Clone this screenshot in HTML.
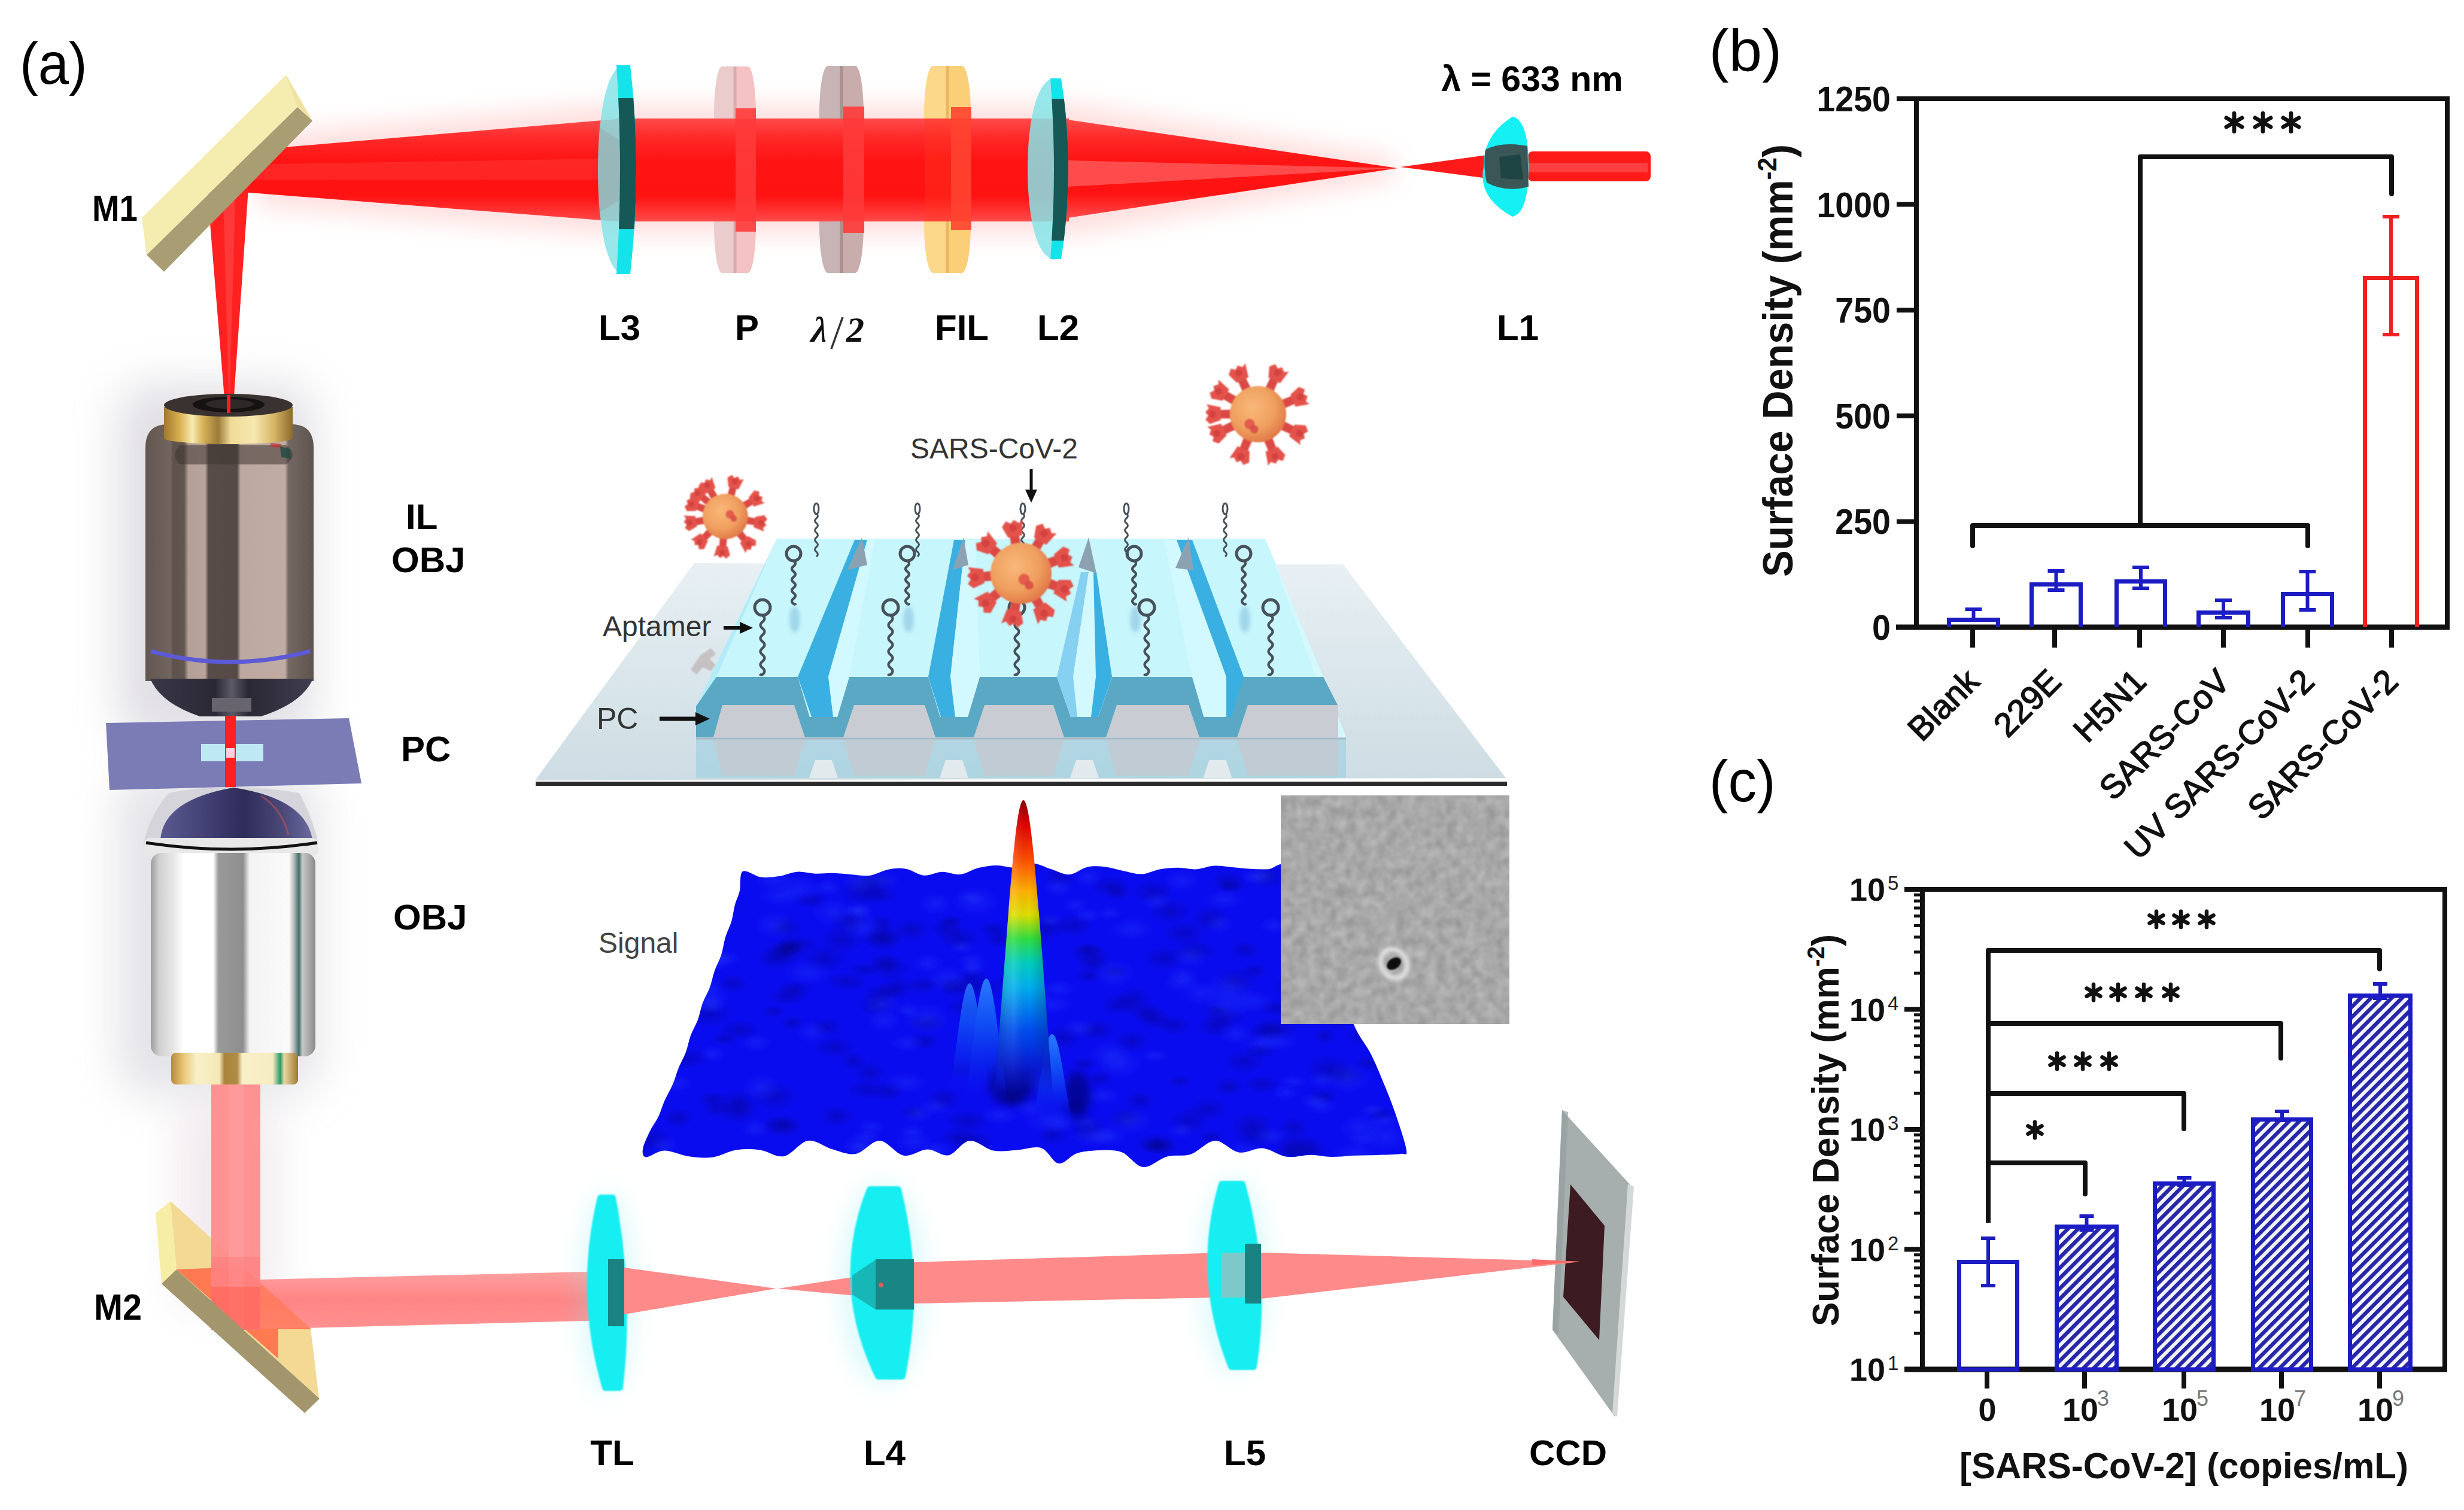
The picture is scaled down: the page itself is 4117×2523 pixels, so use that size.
<!DOCTYPE html>
<html><head><meta charset="utf-8"><style>html,body{margin:0;padding:0;background:#fff;overflow:hidden}svg{display:block}</style></head>
<body><svg width="4117" height="2523" viewBox="0 0 4117 2523">

<defs>
 <filter id="blur8" x="-50%" y="-50%" width="200%" height="200%"><feGaussianBlur stdDeviation="8"/></filter>
 <filter id="blur20" x="-50%" y="-50%" width="200%" height="200%"><feGaussianBlur stdDeviation="20"/></filter>
 <filter id="blur35" x="-50%" y="-50%" width="200%" height="200%"><feGaussianBlur stdDeviation="35"/></filter>
 <filter id="blur3" x="-50%" y="-50%" width="200%" height="200%"><feGaussianBlur stdDeviation="3"/></filter>
 <filter id="blur1" x="-50%" y="-50%" width="200%" height="200%"><feGaussianBlur stdDeviation="1.3"/></filter>
 <linearGradient id="beamV" x1="0" y1="0" x2="0" y2="1">
  <stop offset="0" stop-color="#ff4a4a"/><stop offset="0.18" stop-color="#ff2a2a"/>
  <stop offset="0.4" stop-color="#ff1414"/><stop offset="0.75" stop-color="#ff1212"/>
  <stop offset="0.9" stop-color="#ff3232"/><stop offset="1" stop-color="#ff4a4a"/>
 </linearGradient>
 <linearGradient id="pinkV" x1="0" y1="0" x2="0" y2="1">
  <stop offset="0" stop-color="#ff9a9a"/><stop offset="0.5" stop-color="#ff7e7e"/><stop offset="1" stop-color="#ff8c8c"/>
 </linearGradient>
 <linearGradient id="pinkH" x1="0" y1="0" x2="1" y2="0">
  <stop offset="0" stop-color="#ff8a8a"/><stop offset="0.5" stop-color="#ff9696"/><stop offset="1" stop-color="#ff8080"/>
 </linearGradient>
 <linearGradient id="objTop" x1="0" y1="0" x2="1" y2="0">
  <stop offset="0" stop-color="#62564f"/><stop offset="0.15" stop-color="#726560"/>
  <stop offset="0.165" stop-color="#5e524e"/><stop offset="0.23" stop-color="#62564f"/>
  <stop offset="0.255" stop-color="#b4a096"/><stop offset="0.355" stop-color="#b8a49a"/>
  <stop offset="0.375" stop-color="#574c47"/><stop offset="0.545" stop-color="#554a46"/>
  <stop offset="0.565" stop-color="#bca89e"/><stop offset="0.83" stop-color="#c0aca2"/>
  <stop offset="0.85" stop-color="#746862"/><stop offset="1" stop-color="#5e534e"/>
 </linearGradient>
 <linearGradient id="gold" x1="0" y1="0" x2="1" y2="0">
  <stop offset="0" stop-color="#a07830"/><stop offset="0.12" stop-color="#d8b050"/>
  <stop offset="0.22" stop-color="#f8eab0"/><stop offset="0.3" stop-color="#d9b45a"/>
  <stop offset="0.42" stop-color="#9c7a38"/><stop offset="0.52" stop-color="#f0dc98"/>
  <stop offset="0.7" stop-color="#f6e8b0"/><stop offset="0.85" stop-color="#d8b868"/>
  <stop offset="1" stop-color="#8c6a2c"/>
 </linearGradient>
 <linearGradient id="goldL" x1="0" y1="0" x2="1" y2="0">
  <stop offset="0" stop-color="#b88a3a"/><stop offset="0.1" stop-color="#e8c878"/>
  <stop offset="0.2" stop-color="#f8f0c8"/><stop offset="0.38" stop-color="#f4e8b8"/>
  <stop offset="0.42" stop-color="#a8843c"/><stop offset="0.52" stop-color="#b08c44"/>
  <stop offset="0.56" stop-color="#f8f0c8"/><stop offset="0.8" stop-color="#f6ecc0"/>
  <stop offset="0.86" stop-color="#2a9a6a"/><stop offset="0.89" stop-color="#e8d8a0"/>
  <stop offset="1" stop-color="#a07834"/>
 </linearGradient>
 <linearGradient id="silver" x1="0" y1="0" x2="1" y2="0">
  <stop offset="0" stop-color="#9c9c9c"/><stop offset="0.05" stop-color="#d0d0d0"/>
  <stop offset="0.14" stop-color="#e8e8e8"/><stop offset="0.2" stop-color="#ffffff"/>
  <stop offset="0.38" stop-color="#ffffff"/><stop offset="0.41" stop-color="#9a9a9a"/>
  <stop offset="0.56" stop-color="#8e8e8e"/><stop offset="0.6" stop-color="#f4f4f4"/>
  <stop offset="0.84" stop-color="#fafafa"/><stop offset="0.87" stop-color="#b8b8b8"/>
  <stop offset="0.9" stop-color="#3c6e68"/><stop offset="0.92" stop-color="#c8c8c8"/>
  <stop offset="1" stop-color="#8a8a8a"/>
 </linearGradient>
 <linearGradient id="domeG" x1="0" y1="0" x2="1" y2="0">
  <stop offset="0" stop-color="#5a5a90"/><stop offset="0.35" stop-color="#3e3c70"/>
  <stop offset="0.55" stop-color="#2e2c58"/><stop offset="0.8" stop-color="#4a4878"/>
  <stop offset="1" stop-color="#6a6aa0"/>
 </linearGradient>
 <linearGradient id="coneG" x1="0" y1="0" x2="1" y2="0">
  <stop offset="0" stop-color="#3a3848"/><stop offset="0.4" stop-color="#2a2834"/>
  <stop offset="0.5" stop-color="#5c5a66"/><stop offset="0.6" stop-color="#2a2834"/>
  <stop offset="1" stop-color="#403e50"/>
 </linearGradient>
 <linearGradient id="glassG" x1="0" y1="0" x2="0" y2="1">
  <stop offset="0" stop-color="#e8f0f4"/><stop offset="1" stop-color="#cddde3"/>
 </linearGradient>
 <radialGradient id="virusG" cx="0.4" cy="0.38" r="0.65">
  <stop offset="0" stop-color="#f8b878"/><stop offset="0.6" stop-color="#f0a060"/><stop offset="1" stop-color="#e07848"/>
 </radialGradient>
 <linearGradient id="peakG" x1="0" y1="0" x2="0" y2="1">
  <stop offset="0" stop-color="#8a0000"/><stop offset="0.08" stop-color="#e00000"/>
  <stop offset="0.2" stop-color="#ff5000"/><stop offset="0.3" stop-color="#ffb000"/>
  <stop offset="0.38" stop-color="#e0e000"/><stop offset="0.46" stop-color="#30e040"/>
  <stop offset="0.54" stop-color="#00d0c0"/><stop offset="0.62" stop-color="#00b0f0"/>
  <stop offset="0.76" stop-color="#0050f0"/><stop offset="0.88" stop-color="#0820d8" stop-opacity="0.9"/>
  <stop offset="1" stop-color="#0a0ce8" stop-opacity="0"/>
 </linearGradient>
 <linearGradient id="peakShade" x1="0" y1="0" x2="1" y2="0">
  <stop offset="0" stop-color="#000" stop-opacity="0.25"/><stop offset="0.35" stop-color="#fff" stop-opacity="0.12"/>
  <stop offset="0.6" stop-color="#000" stop-opacity="0"/><stop offset="1" stop-color="#000" stop-opacity="0.3"/>
 </linearGradient>
 <filter id="noiseF" x="0" y="0" width="1" height="1" filterUnits="objectBoundingBox" color-interpolation-filters="sRGB">
  <feTurbulence type="fractalNoise" baseFrequency="0.06" numOctaves="2" seed="4" result="t"/>
  <feColorMatrix in="t" type="matrix" values="0.2 0 0 0 0.56  0.2 0 0 0 0.56  0.2 0 0 0 0.56  0 0 0 0 1" result="c"/>
  <feGaussianBlur in="c" stdDeviation="1.5"/>
 </filter>
 <linearGradient id="fadeV" gradientUnits="userSpaceOnUse" x1="0" y1="1330" x2="0" y2="1830">
  <stop offset="0" stop-color="#fff"/><stop offset="0.7" stop-color="#fff"/><stop offset="1" stop-color="#000"/>
 </linearGradient>
 <mask id="pkMask" maskUnits="userSpaceOnUse" x="1500" y="1300" width="400" height="600"><rect x="1500" y="1300" width="400" height="600" fill="url(#fadeV)"/></mask>
 <radialGradient id="bump" cx="0.5" cy="0.5" r="0.5">
  <stop offset="0" stop-color="#000060" stop-opacity="0.55"/><stop offset="1" stop-color="#000060" stop-opacity="0"/>
 </radialGradient>
 <radialGradient id="bumpL" cx="0.5" cy="0.5" r="0.5">
  <stop offset="0" stop-color="#3050ff" stop-opacity="0.55"/><stop offset="1" stop-color="#3050ff" stop-opacity="0"/>
 </radialGradient>
 <linearGradient id="sideBump" x1="0" y1="0" x2="0" y2="1">
  <stop offset="0" stop-color="#2a78ff"/><stop offset="0.35" stop-color="#1050f4"/><stop offset="0.7" stop-color="#0a20ec" stop-opacity="0.9"/><stop offset="1" stop-color="#0a0cf0" stop-opacity="0"/>
 </linearGradient>
 <pattern id="hatch" patternUnits="userSpaceOnUse" width="12.2" height="12.2" patternTransform="rotate(-45)">
  <rect width="12.2" height="12.2" fill="#f4f4ff"/>
  <rect x="0" y="0" width="12.2" height="6.4" fill="#2626a8"/>
 </pattern>
 <linearGradient id="ccdG" x1="0" y1="0" x2="1" y2="0">
  <stop offset="0" stop-color="#8c8c8c"/><stop offset="0.5" stop-color="#b0b0b0"/><stop offset="1" stop-color="#c8c8c8"/>
 </linearGradient>
</defs>

<rect width="4117" height="2523" fill="#ffffff"/>
<g filter="url(#blur35)" opacity="0.55"><rect x="195" y="640" width="330" height="600" rx="60" fill="#c9c6cf"/><rect x="195" y="1290" width="340" height="540" rx="60" fill="#cfcfd6"/><rect x="300" y="1850" width="160" height="330" fill="#e6d8e0"/></g>
<g filter="url(#blur20)" opacity="0.22"><polygon points="430,225 1000,175 1800,175 2330,262 2330,300 1800,392 1000,392 430,345" fill="#ff7070"/></g>
<clipPath id="rc1228"><rect x="1193" y="111" width="70" height="345" rx="13.3" ry="80"/></clipPath><g clip-path="url(#rc1228)"><rect x="1193" y="111" width="35" height="345" fill="#ebcccc"/><rect x="1228" y="111" width="35" height="345" fill="#f4c2c2"/><rect x="1225.5" y="111" width="5" height="345" fill="#d9acac"/></g>
<clipPath id="rc1406"><rect x="1369" y="110" width="74" height="346" rx="14.06" ry="80"/></clipPath><g clip-path="url(#rc1406)"><rect x="1369" y="110" width="37" height="346" fill="#c8b4b4"/><rect x="1406" y="110" width="37" height="346" fill="#c9adad"/><rect x="1403.5" y="110" width="5" height="346" fill="#a89090"/></g>
<clipPath id="rc1583"><rect x="1544" y="110" width="78" height="346" rx="14.82" ry="80"/></clipPath><g clip-path="url(#rc1583)"><rect x="1544" y="110" width="39" height="346" fill="#fcd88a"/><rect x="1583" y="110" width="39" height="346" fill="#fbcf78"/><rect x="1580.5" y="110" width="5" height="346" fill="#e8b860"/></g>
<polygon points="380,254 1030,199 1030,370 380,319" fill="url(#beamV)"/>
<polygon points="400,275 1000,265 1000,300 400,300" fill="#ff5a5a" opacity="0.25"/>
<rect x="1030" y="198" width="756" height="172" fill="url(#beamV)"/>
<polygon points="1784,200 2335,281 1784,364" fill="url(#beamV)"/>
<polygon points="1784,268 2335,281 1784,312" fill="#ff5a5a" opacity="0.8"/>
<polygon points="2340,279 2485,259 2485,298" fill="#ff1a1a"/>
<rect x="2553" y="253" width="205" height="50" rx="8" fill="#ff1a1a"/>
<rect x="2553" y="272" width="200" height="16" fill="#ff4848" opacity="0.8"/>
<polygon points="345,300 416,300 389,690 377,690" fill="#ff2020"/>
<polygon points="372,300 394,300 383,690" fill="#ff5050" opacity="0.5"/>
<rect x="1229" y="181" width="34" height="206" fill="#ff3a3a" opacity="0.9"/>
<rect x="1409" y="178" width="35" height="211" fill="#ff3a3a" opacity="0.9"/>
<rect x="1589" y="179" width="34" height="205" fill="#ff4430" opacity="0.9"/>
<rect x="1545" y="198" width="44" height="172" fill="#ff3a20" opacity="0.35"/>
<polygon points="237,364 478,125 522,202 497,179 245,426" fill="#f5ecb0"/>
<polygon points="478,125 522,202 497,179" fill="#f0e2a0"/>
<polygon points="245,426 497,179 522,202 274,454" fill="#a99d74"/>
<path d="M1042,109 C1012,112 999,200 999,284 C999,368 1012,456 1042,458 Z" fill="#86e4e8" opacity="0.85"/>
<polygon points="1000,212 1038,236 1038,332 1000,356" fill="#999" opacity="0.3"/>
<clipPath id="cL3"><rect x="990" y="164" width="100" height="219"/></clipPath>
<path d="M1030,109 L1053,109 Q1073,284 1053,458 L1030,458 Q1042,284 1030,109 Z" fill="#14e4ea"/>
<path d="M1030,109 L1053,109 Q1073,284 1053,458 L1030,458 Q1042,284 1030,109 Z" fill="#165856" clip-path="url(#cL3)"/>
<path d="M1762,130 C1730,134 1717,210 1717,282 C1717,356 1730,430 1762,434 Z" fill="#86e4e8" opacity="0.85"/>
<clipPath id="cL2"><rect x="1700" y="165" width="120" height="237"/></clipPath>
<path d="M1755,131 L1773,131 Q1797,282 1773,433 L1755,433 Q1767,282 1755,131 Z" fill="#14e4ea"/>
<path d="M1755,131 L1773,131 Q1797,282 1773,433 L1755,433 Q1767,282 1755,131 Z" fill="#165856" clip-path="url(#cL2)"/>
<path d="M2527,195 Q2554,200 2554,278 Q2554,356 2527,362 Q2468,330 2479,278 Q2478,226 2527,195 Z" fill="#14f0f4"/>
<path d="M2482,250 Q2510,236 2552,244 L2554,312 Q2515,322 2484,305 Q2478,278 2482,250 Z" fill="#3a5656"/>
<path d="M2505,262 L2540,258 L2545,300 L2508,298 Z" fill="#1f4444"/>
<text x="33" y="140" font-family="Liberation Sans, sans-serif" font-size="99" font-weight="normal" text-anchor="start" fill="#000" textLength="112.7" lengthAdjust="spacingAndGlyphs">(a)</text>
<text x="154" y="369" font-family="Liberation Sans, sans-serif" font-size="62" font-weight="bold" text-anchor="start" fill="#000" textLength="76" lengthAdjust="spacingAndGlyphs">M1</text>
<text x="1035" y="568" font-family="Liberation Sans, sans-serif" font-size="60" font-weight="bold" text-anchor="middle" fill="#000" >L3</text>
<text x="1248" y="568" font-family="Liberation Sans, sans-serif" font-size="60" font-weight="bold" text-anchor="middle" fill="#000" >P</text>
<text x="1607" y="568" font-family="Liberation Sans, sans-serif" font-size="60" font-weight="bold" text-anchor="middle" fill="#000" >FIL</text>
<text x="1768" y="568" font-family="Liberation Sans, sans-serif" font-size="60" font-weight="bold" text-anchor="middle" fill="#000" >L2</text>
<text x="2536" y="568" font-family="Liberation Sans, sans-serif" font-size="60" font-weight="bold" text-anchor="middle" fill="#000" >L1</text>
<text transform="translate(1352,571) skewX(-14)" x="0" y="0" font-family="Liberation Serif, serif" font-weight="bold" font-size="60" fill="#111" textLength="27" lengthAdjust="spacingAndGlyphs">&#955;</text>
<line x1="1389" y1="583" x2="1408" y2="530" stroke="#333" stroke-width="3.5"/>
<text x="1414" y="571" font-family="Liberation Serif, serif" font-style="italic" font-weight="bold" font-size="60" fill="#111" textLength="30" lengthAdjust="spacingAndGlyphs">2</text>
<text x="2560" y="152" font-family="Liberation Sans, sans-serif" font-size="59" font-weight="bold" text-anchor="middle" fill="#000" >&#955; = 633 nm</text>
<path d="M243,1138 L243,748 Q243,709 280,709 L487,709 Q524,709 524,748 L524,1138 Z" fill="url(#objTop)"/>
<path d="M300,744 L478,744 Q500,760 478,776 L300,776 Q285,760 300,744 Z" fill="#3e3532" opacity="0.55"/>
<path d="M468,746 L484,750 L486,766 L470,764 Z" fill="#1f4a44" opacity="0.8"/>
<path d="M452,740 L470,742 L468,748 L452,747 Z" fill="#c03030" opacity="0.7"/>
<path d="M252,1088 Q384,1124 518,1088" stroke="#5c5ad6" stroke-width="7" fill="none"/>
<path d="M251,1134 L523,1134 Q505,1175 436,1197 L334,1197 Q268,1175 251,1134 Z" fill="url(#coneG)"/>
<rect x="354" y="1166" width="66" height="23" fill="#68646e"/>
<rect x="274" y="680" width="215" height="52" fill="url(#gold)"/>
<ellipse cx="381.5" cy="732" rx="107.5" ry="10" fill="url(#gold)"/>
<ellipse cx="381.5" cy="677" rx="107.5" ry="19" fill="#3a3230"/>
<ellipse cx="382" cy="676" rx="60" ry="13" fill="#161212"/>
<ellipse cx="384" cy="675" rx="40" ry="8" fill="#2e2826"/>
<line x1="382" y1="660" x2="382" y2="690" stroke="#ff2020" stroke-width="6"/>
<polygon points="177,1208 583,1200 604,1309 183,1320" fill="#7b7cb6"/>
<rect x="336" y="1243" width="104" height="29" fill="#bfe9f2"/>
<rect x="376" y="1196" width="18" height="125" fill="#ff2020"/>
<rect x="378" y="1250" width="14" height="16" fill="#ffd0e0"/>
<path d="M282,1325 Q384,1305 500,1325 Q522,1365 532,1410 L240,1410 Q248,1365 282,1325 Z" fill="#d4d4da"/>
<path d="M268,1402 Q274,1336 390,1316 Q510,1334 522,1402 Z" fill="url(#domeG)"/>
<path d="M436,1330 Q470,1350 482,1395" stroke="#c05050" stroke-width="3" fill="none" opacity="0.6"/>
<rect x="241" y="1400" width="291" height="30" rx="10" fill="#e8e8e8"/>
<path d="M244,1408 Q386,1430 530,1408" stroke="#111" stroke-width="5" fill="none"/>
<rect x="252" y="1425" width="275" height="340" rx="18" fill="url(#silver)"/>
<rect x="286" y="1759" width="212" height="53" rx="8" fill="url(#goldL)"/>
<polygon points="260,2027 285,2007 295,2121 270,2145" fill="#f6eea6"/>
<polygon points="285,2007 519,2220 533,2336 295,2121" fill="#f3d994"/>
<clipPath id="m2face"><polygon points="285,2007 519,2220 533,2336 295,2121"/></clipPath>
<polygon clip-path="url(#m2face)" points="295,2121 424,2116 434,2138 525,2138 525,2221 465,2221 465,2270 295,2121" fill="#ff7a50"/>
<rect x="353" y="1812" width="82" height="410" fill="#ff8a8a" opacity="0.92"/>
<rect x="382" y="1812" width="26" height="410" fill="#ffaaaa" opacity="0.35"/>
<rect x="353" y="2100" width="82" height="122" fill="#ff7070" opacity="0.35"/>
<polygon points="434,2138 1020,2124 1020,2206 434,2221" fill="url(#pinkV)" opacity="0.95"/>
<polygon points="353,2150 434,2150 434,2221 400,2222 353,2190" fill="#ff5a4a" opacity="0.5"/>
<polygon clip-path="url(#m2face)" points="434,2138 525,2138 525,2221 434,2221" fill="#ff7a50" opacity="0.6"/>
<polygon points="270,2145 295,2121 534,2337 509,2361" fill="#a3966c"/>
<text x="157" y="2205" font-family="Liberation Sans, sans-serif" font-size="61" font-weight="bold" text-anchor="start" fill="#000" textLength="80" lengthAdjust="spacingAndGlyphs">M2</text>
<g filter="url(#blur20)" opacity="0.25"><ellipse cx="1014" cy="2160" rx="45" ry="170" fill="#7ae8f0"/><ellipse cx="1475" cy="2145" rx="70" ry="170" fill="#7ae8f0"/><ellipse cx="2062" cy="2131" rx="55" ry="165" fill="#7ae8f0"/></g>
<path d="M1004,2002 L1023,2002 Q1053.0,2160.0 1035,2318 L1012,2318 Q966.0,2160.0 1004,2002 Z" fill="#12eef2" stroke="#12eef2" stroke-width="12" stroke-linejoin="round" filter="url(#blur1)"/>
<rect x="1016" y="2104" width="27" height="112" fill="#1a8280"/>
<polygon points="1043,2118 1297,2153 1043,2196" fill="#ff8a8a"/>
<polygon points="1300,2153 1463,2128 1463,2168" fill="#ff8a8a"/>
<path d="M1454,1988 L1500,1988 Q1538.5,2143.5 1507,2299 L1468,2299 Q1393.0,2143.5 1454,1988 Z" fill="#12eef2" stroke="#12eef2" stroke-width="12" stroke-linejoin="round" filter="url(#blur1)"/>
<polygon points="1424,2131 1463,2105 1527,2104 1527,2188 1463,2188 1424,2163" fill="#1a8a88" opacity="0.55"/>
<rect x="1463" y="2104" width="64" height="84" fill="#1a8684"/>
<circle cx="1472" cy="2147" r="4" fill="#d86060"/>
<polygon points="1527,2109 2040,2093 2040,2168 1527,2178" fill="#ff8a8a"/>
<path d="M2042,1979 L2075,1979 Q2117.5,2131.0 2094,2283 L2058,2283 Q1998.0,2131.0 2042,1979 Z" fill="#12eef2" stroke="#12eef2" stroke-width="12" stroke-linejoin="round" filter="url(#blur1)"/>
<rect x="2080" y="2078" width="27" height="100" fill="#1a8280"/>
<rect x="2040" y="2093" width="40" height="75" fill="#ff9a9a" opacity="0.45"/>
<polygon points="2610,1855 2727,1983 2698,2367 2594,2222" fill="#a6aeae"/>
<polygon points="2720,1978 2730,1983 2702,2367 2694,2362" fill="#d4d8d8"/>
<polygon points="2610,1855 2620,1858 2604,2230 2594,2222" fill="#969ea0" opacity="0.7"/>
<polygon points="2624,1979 2681,2048 2672,2239 2612,2167" fill="#3c1c20"/>
<polygon points="2107,2093 2640,2108 2107,2170" fill="#ff8a8a"/>
<polygon points="2560,2104 2640,2108 2560,2114" fill="#ff6a6a"/>
<text x="1023" y="2448" font-family="Liberation Sans, sans-serif" font-size="60" font-weight="bold" text-anchor="middle" fill="#000" >TL</text>
<text x="1478" y="2448" font-family="Liberation Sans, sans-serif" font-size="60" font-weight="bold" text-anchor="middle" fill="#000" >L4</text>
<text x="2080" y="2448" font-family="Liberation Sans, sans-serif" font-size="60" font-weight="bold" text-anchor="middle" fill="#000" >L5</text>
<text x="2620" y="2448" font-family="Liberation Sans, sans-serif" font-size="60" font-weight="bold" text-anchor="middle" fill="#000" >CCD</text>
<text x="678" y="884" font-family="Liberation Sans, sans-serif" font-size="60" font-weight="bold" text-anchor="start" fill="#000" >IL</text>
<text x="654" y="956" font-family="Liberation Sans, sans-serif" font-size="60" font-weight="bold" text-anchor="start" fill="#000" >OBJ</text>
<text x="670" y="1272" font-family="Liberation Sans, sans-serif" font-size="60" font-weight="bold" text-anchor="start" fill="#000" >PC</text>
<text x="657" y="1553" font-family="Liberation Sans, sans-serif" font-size="60" font-weight="bold" text-anchor="start" fill="#000" >OBJ</text>
<polygon points="1160,941 2244,943 2516,1300 894,1304" fill="url(#glassG)"/>
<rect x="895" y="1306" width="1623" height="7" fill="#2a2a2a"/>
<polygon points="1163,1234 2249,1234 2249,1300 1163,1300" fill="#a6d2e2" opacity="0.75"/>
<polygon points="1298,900 2114,900 2211,1131 1197,1131" fill="#c8f6fd"/>
<polygon points="1298,900 1197,1131 1163,1232 1163,1180" fill="#b2ecf8"/>
<polygon points="2114,900 2211,1131 2249,1232 2236,1232" fill="#d4f8fe"/>
<polygon points="1333,1131 1384,1131 1449,902 1428,902" fill="#3ab0e2"/>
<polygon points="1384,1131 1419,1131 1462,902 1449,902" fill="#d2f9ff"/>
<polygon points="1416,952 1449,944 1440,898" fill="#8ca2b2"/>
<polygon points="1551,1131 1588,1131 1613,902 1594,902" fill="#3ab0e2"/>
<polygon points="1588,1131 1637,1131 1630,902 1613,902" fill="#d2f9ff"/>
<polygon points="1592,952 1618,944 1610,898" fill="#8ca2b2"/>
<polygon points="1766,1131 1793,1131 1819,956 1806,956" fill="#86d0f2"/>
<polygon points="1793,1131 1831,1131 1827,956 1819,956" fill="#d2f9ff"/>
<polygon points="1831,1131 1858,1131 1832,956 1827,956" fill="#3ab0e2"/>
<polygon points="1802,948 1832,958 1819,898" fill="#8ca2b2"/>
<polygon points="1992,1131 2049,1131 1966,902 1945,902" fill="#d2f9ff"/>
<polygon points="2049,1131 2078,1131 1992,902 1966,902" fill="#3ab0e2"/>
<polygon points="1964,949 1994,953 1986,898" fill="#8ca2b2"/>
<polygon points="1163,1232 1163,1180 1197,1131 1333,1131 1353.0,1198 1399.0,1198 1419,1131 1551,1131 1571.0,1198 1617.0,1198 1637,1131 1766,1131 1789.0,1198 1835.0,1198 1858,1131 1992,1131 2011.5,1198 2057.5,1198 2077,1131 2211,1131 2236,1180 2236,1232" fill="#5aa8c4"/>
<polygon points="1333,1131 1419,1131 1399.0,1198 1353.0,1198" fill="#d2f9ff"/>
<polygon points="1551,1131 1637,1131 1617.0,1198 1571.0,1198" fill="#d2f9ff"/>
<polygon points="1766,1131 1858,1131 1835.0,1198 1789.0,1198" fill="#d2f9ff"/>
<polygon points="1992,1131 2077,1131 2057.5,1198 2011.5,1198" fill="#d2f9ff"/>
<polygon points="1333,1131 1384,1131 1392,1198 1356,1198" fill="#3ab0e2"/>
<polygon points="1551,1131 1588,1131 1596,1198 1572,1198" fill="#3ab0e2"/>
<polygon points="1766,1131 1793,1131 1800,1198 1789,1198" fill="#86d0f2"/>
<polygon points="1831,1131 1858,1131 1835,1198 1823,1198" fill="#3ab0e2"/>
<polygon points="2049,1131 2078,1131 2058,1198 2049,1198" fill="#3ab0e2"/>
<polygon points="1207,1178 1327,1178 1345,1232 1192,1232" fill="#c9ccd2"/>
<polygon points="1427,1178 1545,1178 1563,1232 1409,1232" fill="#c9ccd2"/>
<polygon points="1645,1178 1760,1178 1778,1232 1627,1232" fill="#c9ccd2"/>
<polygon points="1866,1178 1986,1178 2004,1232 1848,1232" fill="#c9ccd2"/>
<polygon points="2085,1178 2236,1178 2236,1232 2067,1232" fill="#c9ccd2"/>
<polygon points="1192,1236 1345,1236 1327,1296 1207,1296" fill="#c3cad1" opacity="0.9"/>
<polygon points="1409,1236 1563,1236 1545,1296 1427,1296" fill="#c3cad1" opacity="0.9"/>
<polygon points="1627,1236 1778,1236 1760,1296 1645,1296" fill="#c3cad1" opacity="0.9"/>
<polygon points="1848,1236 2004,1236 1986,1296 1866,1296" fill="#c3cad1" opacity="0.9"/>
<polygon points="2067,1236 2236,1236 2236,1296 2085,1296" fill="#c3cad1" opacity="0.9"/>
<polygon points="1362.0,1270 1390.0,1270 1400.0,1300 1352.0,1300" fill="#e2eaee"/>
<polygon points="1580.0,1270 1608.0,1270 1618.0,1300 1570.0,1300" fill="#e2eaee"/>
<polygon points="1798.0,1270 1826.0,1270 1836.0,1300 1788.0,1300" fill="#e2eaee"/>
<polygon points="2020.5,1270 2048.5,1270 2058.5,1300 2010.5,1300" fill="#e2eaee"/>
<line x1="1163" y1="1234" x2="2249" y2="1234" stroke="#a8b8c4" stroke-width="3"/>
<path d="M1170,1095 l18,-12 l8,10 l-10,8 l10,10 l-8,10 l-14,-6 l-10,12 l-10,-8 z" fill="#b8a8a8" opacity="0.6" filter="url(#blur1)"/>
<ellipse cx="1364" cy="850" rx="4" ry="9" fill="none" stroke="#46515a" stroke-width="3" opacity="1"/><path d="M1364,858 Q1369,862.0 1364,866.0 Q1359,870.0 1364,874.0 Q1369,878.0 1364,882.0 Q1359,886.0 1364,890.0 Q1369,894.0 1364,898.0 Q1359,902.0 1364,906.0 Q1369,910.0 1364,914.0 Q1359,918.0 1364,922.0 Q1369,926.0 1364,930.0" fill="none" stroke="#46515a" stroke-width="3" opacity="1"/>
<ellipse cx="1533" cy="850" rx="4" ry="9" fill="none" stroke="#46515a" stroke-width="3" opacity="1"/><path d="M1533,858 Q1538,862.0 1533,866.0 Q1528,870.0 1533,874.0 Q1538,878.0 1533,882.0 Q1528,886.0 1533,890.0 Q1538,894.0 1533,898.0 Q1528,902.0 1533,906.0 Q1538,910.0 1533,914.0 Q1528,918.0 1533,922.0 Q1538,926.0 1533,930.0" fill="none" stroke="#46515a" stroke-width="3" opacity="1"/>
<ellipse cx="1709" cy="850" rx="4" ry="9" fill="none" stroke="#46515a" stroke-width="3" opacity="1"/><path d="M1709,858 Q1714,862.0 1709,866.0 Q1704,870.0 1709,874.0 Q1714,878.0 1709,882.0 Q1704,886.0 1709,890.0 Q1714,894.0 1709,898.0 Q1704,902.0 1709,906.0 Q1714,910.0 1709,914.0 Q1704,918.0 1709,922.0 Q1714,926.0 1709,930.0" fill="none" stroke="#46515a" stroke-width="3" opacity="1"/>
<ellipse cx="1882" cy="850" rx="4" ry="9" fill="none" stroke="#46515a" stroke-width="3" opacity="1"/><path d="M1882,858 Q1887,862.0 1882,866.0 Q1877,870.0 1882,874.0 Q1887,878.0 1882,882.0 Q1877,886.0 1882,890.0 Q1887,894.0 1882,898.0 Q1877,902.0 1882,906.0 Q1887,910.0 1882,914.0 Q1877,918.0 1882,922.0 Q1887,926.0 1882,930.0" fill="none" stroke="#46515a" stroke-width="3" opacity="1"/>
<ellipse cx="2047" cy="850" rx="4" ry="9" fill="none" stroke="#46515a" stroke-width="3" opacity="1"/><path d="M2047,858 Q2052,862.0 2047,866.0 Q2042,870.0 2047,874.0 Q2052,878.0 2047,882.0 Q2042,886.0 2047,890.0 Q2052,894.0 2047,898.0 Q2042,902.0 2047,906.0 Q2052,910.0 2047,914.0 Q2042,918.0 2047,922.0 Q2052,926.0 2047,930.0" fill="none" stroke="#46515a" stroke-width="3" opacity="1"/>
<circle cx="1326" cy="925" r="12" fill="none" stroke="#46515a" stroke-width="5.0" opacity="1"/><path d="M1326,937 Q1332,941.5 1326,946.0 Q1320,950.5 1326,955.0 Q1332,959.5 1326,964.0 Q1320,968.5 1326,973.0 Q1332,977.5 1326,982.0 Q1320,986.5 1326,991.0 Q1332,995.5 1326,1000.0 Q1320,1004.5 1326,1009.0 Q1332,1009.5 1326,1010" fill="none" stroke="#46515a" stroke-width="4.2" opacity="1"/>
<ellipse cx="1328" cy="1035" rx="9" ry="22" fill="#7ab8d8" opacity="0.5" filter="url(#blur3)"/>
<circle cx="1516" cy="925" r="12" fill="none" stroke="#46515a" stroke-width="5.0" opacity="1"/><path d="M1516,937 Q1522,941.5 1516,946.0 Q1510,950.5 1516,955.0 Q1522,959.5 1516,964.0 Q1510,968.5 1516,973.0 Q1522,977.5 1516,982.0 Q1510,986.5 1516,991.0 Q1522,995.5 1516,1000.0 Q1510,1004.5 1516,1009.0 Q1522,1009.5 1516,1010" fill="none" stroke="#46515a" stroke-width="4.2" opacity="1"/>
<ellipse cx="1518" cy="1035" rx="9" ry="22" fill="#7ab8d8" opacity="0.5" filter="url(#blur3)"/>
<circle cx="1895" cy="925" r="12" fill="none" stroke="#46515a" stroke-width="5.0" opacity="1"/><path d="M1895,937 Q1901,941.5 1895,946.0 Q1889,950.5 1895,955.0 Q1901,959.5 1895,964.0 Q1889,968.5 1895,973.0 Q1901,977.5 1895,982.0 Q1889,986.5 1895,991.0 Q1901,995.5 1895,1000.0 Q1889,1004.5 1895,1009.0 Q1901,1009.5 1895,1010" fill="none" stroke="#46515a" stroke-width="4.2" opacity="1"/>
<ellipse cx="1897" cy="1035" rx="9" ry="22" fill="#7ab8d8" opacity="0.5" filter="url(#blur3)"/>
<circle cx="2078" cy="925" r="12" fill="none" stroke="#46515a" stroke-width="5.0" opacity="1"/><path d="M2078,937 Q2084,941.5 2078,946.0 Q2072,950.5 2078,955.0 Q2084,959.5 2078,964.0 Q2072,968.5 2078,973.0 Q2084,977.5 2078,982.0 Q2072,986.5 2078,991.0 Q2084,995.5 2078,1000.0 Q2072,1004.5 2078,1009.0 Q2084,1009.5 2078,1010" fill="none" stroke="#46515a" stroke-width="4.2" opacity="1"/>
<ellipse cx="2080" cy="1035" rx="9" ry="22" fill="#7ab8d8" opacity="0.5" filter="url(#blur3)"/>
<circle cx="1274" cy="1015" r="13" fill="none" stroke="#46515a" stroke-width="5.0" opacity="1"/><path d="M1274,1028 Q1281,1033.5 1274,1039.0 Q1267,1044.5 1274,1050.0 Q1281,1055.5 1274,1061.0 Q1267,1066.5 1274,1072.0 Q1281,1077.5 1274,1083.0 Q1267,1088.5 1274,1094.0 Q1281,1099.5 1274,1105.0 Q1267,1110.5 1274,1116.0 Q1281,1121.5 1274,1127.0 Q1267,1127.5 1274,1128" fill="none" stroke="#46515a" stroke-width="4.2" opacity="1"/>
<circle cx="1488" cy="1015" r="13" fill="none" stroke="#46515a" stroke-width="5.0" opacity="1"/><path d="M1488,1028 Q1495,1033.5 1488,1039.0 Q1481,1044.5 1488,1050.0 Q1495,1055.5 1488,1061.0 Q1481,1066.5 1488,1072.0 Q1495,1077.5 1488,1083.0 Q1481,1088.5 1488,1094.0 Q1495,1099.5 1488,1105.0 Q1481,1110.5 1488,1116.0 Q1495,1121.5 1488,1127.0 Q1481,1127.5 1488,1128" fill="none" stroke="#46515a" stroke-width="4.2" opacity="1"/>
<circle cx="1699" cy="1015" r="13" fill="none" stroke="#46515a" stroke-width="5.0" opacity="1"/><path d="M1699,1028 Q1706,1033.5 1699,1039.0 Q1692,1044.5 1699,1050.0 Q1706,1055.5 1699,1061.0 Q1692,1066.5 1699,1072.0 Q1706,1077.5 1699,1083.0 Q1692,1088.5 1699,1094.0 Q1706,1099.5 1699,1105.0 Q1692,1110.5 1699,1116.0 Q1706,1121.5 1699,1127.0 Q1692,1127.5 1699,1128" fill="none" stroke="#46515a" stroke-width="4.2" opacity="1"/>
<circle cx="1916" cy="1015" r="13" fill="none" stroke="#46515a" stroke-width="5.0" opacity="1"/><path d="M1916,1028 Q1923,1033.5 1916,1039.0 Q1909,1044.5 1916,1050.0 Q1923,1055.5 1916,1061.0 Q1909,1066.5 1916,1072.0 Q1923,1077.5 1916,1083.0 Q1909,1088.5 1916,1094.0 Q1923,1099.5 1916,1105.0 Q1909,1110.5 1916,1116.0 Q1923,1121.5 1916,1127.0 Q1909,1127.5 1916,1128" fill="none" stroke="#46515a" stroke-width="4.2" opacity="1"/>
<circle cx="2123" cy="1015" r="13" fill="none" stroke="#46515a" stroke-width="5.0" opacity="1"/><path d="M2123,1028 Q2130,1033.5 2123,1039.0 Q2116,1044.5 2123,1050.0 Q2130,1055.5 2123,1061.0 Q2116,1066.5 2123,1072.0 Q2130,1077.5 2123,1083.0 Q2116,1088.5 2123,1094.0 Q2130,1099.5 2123,1105.0 Q2116,1110.5 2123,1116.0 Q2130,1121.5 2123,1127.0 Q2116,1127.5 2123,1128" fill="none" stroke="#46515a" stroke-width="4.2" opacity="1"/>
<g filter="url(#blur1)"><polygon points="1204.2,836.8 1190.6,814.6 1180.8,820.3 1193.2,843.1" fill="#dc4a44"/><polygon points="1180.3,824.2 1168.5,814.6 1170.6,806.1 1177.2,806.8 1179.3,801.0 1186.4,802.5 1189.4,797.0 1195.5,815.5" fill="#e4524c"/><circle cx="1181.8" cy="810.6" r="4.8" fill="#c83a38" opacity="0.6"/><polygon points="1225.0,838.9 1231.1,813.7 1220.1,810.7 1212.8,835.7" fill="#dc4a44"/><polygon points="1217.0,813.2 1215.5,798.0 1223.0,793.5 1227.1,798.7 1232.7,796.1 1236.7,802.1 1242.7,800.4 1233.9,817.7" fill="#e4524c"/><circle cx="1227.7" cy="804.6" r="4.8" fill="#c83a38" opacity="0.6"/><polygon points="1238.2,855.2 1260.4,841.6 1254.7,831.8 1231.9,844.2" fill="#dc4a44"/><polygon points="1250.8,831.3 1260.4,819.5 1268.9,821.6 1268.2,828.2 1274.0,830.3 1272.5,837.4 1278.0,840.4 1259.5,846.5" fill="#e4524c"/><circle cx="1264.4" cy="832.8" r="4.8" fill="#c83a38" opacity="0.6"/><polygon points="1237.1,873.9 1262.8,877.7 1264.8,866.5 1239.3,861.4" fill="#dc4a44"/><polygon points="1262.1,863.6 1277.0,860.8 1282.2,867.9 1277.4,872.5 1280.5,877.8 1274.9,882.3 1277.0,888.1 1259.0,880.9" fill="#e4524c"/><circle cx="1271.6" cy="873.5" r="4.8" fill="#c83a38" opacity="0.6"/><polygon points="1224.2,887.4 1241.4,906.9 1250.2,899.6 1233.9,879.3" fill="#dc4a44"/><polygon points="1250.0,895.7 1263.2,903.1 1262.7,911.9 1256.0,912.3 1254.9,918.4 1247.8,918.2 1245.7,924.1 1236.5,906.9" fill="#e4524c"/><circle cx="1250.9" cy="909.3" r="4.8" fill="#c83a38" opacity="0.6"/><polygon points="1203.4,888.9 1201.7,914.9 1213.1,915.9 1216.0,890.1" fill="#dc4a44"/><polygon points="1215.7,912.9 1219.9,927.6 1213.3,933.4 1208.3,929.0 1203.2,932.5 1198.3,927.3 1192.6,930.0 1198.3,911.4" fill="#e4524c"/><circle cx="1206.7" cy="923.3" r="4.8" fill="#c83a38" opacity="0.6"/><polygon points="1188.7,877.3 1170.8,896.2 1178.8,904.2 1197.7,886.3" fill="#dc4a44"/><polygon points="1182.8,903.7 1176.5,917.5 1167.7,917.7 1166.7,911.1 1160.6,910.6 1160.2,903.4 1154.1,901.9 1170.4,891.3" fill="#e4524c"/><circle cx="1169.2" cy="905.8" r="4.8" fill="#c83a38" opacity="0.6"/><polygon points="1184.7,861.4 1159.2,866.5 1161.2,877.7 1186.9,873.9" fill="#dc4a44"/><polygon points="1164.7,879.5 1151.6,887.3 1144.3,882.4 1147.3,876.5 1142.6,872.5 1146.3,866.4 1142.3,861.6 1161.7,862.3" fill="#e4524c"/><circle cx="1152.4" cy="873.5" r="4.8" fill="#c83a38" opacity="0.6"/><polygon points="1189.2,848.0 1164.5,839.7 1160.6,850.4 1184.8,859.9" fill="#dc4a44"/><polygon points="1162.8,853.7 1147.6,853.9 1143.7,846.0 1149.3,842.3 1147.1,836.5 1153.4,833.1 1152.3,827.0 1168.8,837.2" fill="#e4524c"/><circle cx="1155.1" cy="842.3" r="4.8" fill="#c83a38" opacity="0.6"/><polygon points="1195.7,841.1 1175.4,824.8 1168.1,833.6 1187.6,850.8" fill="#dc4a44"/><polygon points="1169.0,837.4 1154.6,832.4 1153.6,823.7 1160.1,822.1 1160.1,815.9 1167.2,814.9 1168.2,808.7 1180.2,824.0" fill="#e4524c"/><circle cx="1165.7" cy="824.1" r="4.8" fill="#c83a38" opacity="0.6"/><circle cx="1212" cy="863" r="38" fill="url(#virusG)"/><circle cx="1219.6" cy="859.2" r="7.1" fill="#e0504a" opacity="0.85"/><circle cx="1225.9" cy="866.3" r="5.5" fill="#d84844" opacity="0.85"/></g>
<g filter="url(#blur1)"><polygon points="2095.2,658.9 2080.3,628.8 2067.5,634.7 2081.0,665.5" fill="#dc4a44"/><polygon points="2066.5,639.5 2053.0,626.4 2056.5,616.1 2064.6,617.7 2067.8,610.8 2076.3,613.3 2080.7,607.0 2086.1,630.4" fill="#e4524c"/><circle cx="2069.8" cy="622.9" r="5.9" fill="#c83a38" opacity="0.6"/><polygon points="2123.0,665.5 2136.5,634.7 2123.7,628.8 2108.8,658.9" fill="#dc4a44"/><polygon points="2119.4,631.1 2120.8,612.3 2130.9,608.4 2134.9,615.6 2142.2,613.7 2145.8,621.8 2153.4,621.1 2139.0,640.2" fill="#e4524c"/><circle cx="2134.2" cy="622.9" r="5.9" fill="#c83a38" opacity="0.6"/><polygon points="2135.4,686.9 2166.3,673.6 2161.0,660.6 2129.6,672.4" fill="#dc4a44"/><polygon points="2156.2,659.3 2170.1,646.5 2180.2,650.5 2178.1,658.6 2184.8,662.1 2181.9,670.5 2188.0,675.2 2164.4,679.4" fill="#e4524c"/><circle cx="2172.7" cy="663.4" r="5.9" fill="#c83a38" opacity="0.6"/><polygon points="2128.5,713.0 2159.3,726.5 2165.2,713.7 2135.1,698.8" fill="#dc4a44"/><polygon points="2162.9,709.4 2181.7,710.8 2185.6,720.9 2178.4,724.9 2180.3,732.2 2172.2,735.8 2172.9,743.4 2153.8,729.0" fill="#e4524c"/><circle cx="2171.1" cy="724.2" r="5.9" fill="#c83a38" opacity="0.6"/><polygon points="2107.1,725.4 2120.4,756.3 2133.4,751.0 2121.6,719.6" fill="#dc4a44"/><polygon points="2134.7,746.2 2147.5,760.1 2143.5,770.2 2135.4,768.1 2131.9,774.8 2123.5,771.9 2118.8,778.0 2114.6,754.4" fill="#e4524c"/><circle cx="2130.6" cy="762.7" r="5.9" fill="#c83a38" opacity="0.6"/><polygon points="2082.4,719.6 2070.6,751.0 2083.6,756.3 2096.9,725.4" fill="#dc4a44"/><polygon points="2087.8,753.7 2087.4,772.6 2077.5,777.0 2073.2,770.0 2065.9,772.3 2062.0,764.4 2054.3,765.5 2067.8,745.6" fill="#e4524c"/><circle cx="2073.4" cy="762.7" r="5.9" fill="#c83a38" opacity="0.6"/><polygon points="2068.9,698.8 2038.8,713.7 2044.7,726.5 2075.5,713.0" fill="#dc4a44"/><polygon points="2049.5,727.5 2036.4,741.0 2026.1,737.5 2027.7,729.4 2020.8,726.2 2023.3,717.7 2017.0,713.3 2040.4,707.9" fill="#e4524c"/><circle cx="2032.9" cy="724.2" r="5.9" fill="#c83a38" opacity="0.6"/><polygon points="2069.1,684.2 2035.5,685.0 2035.5,699.0 2069.1,699.8" fill="#dc4a44"/><polygon points="2039.5,702.0 2021.8,708.6 2014.0,701.2 2018.9,694.5 2014.0,688.7 2019.9,682.0 2016.0,675.4 2039.5,680.3" fill="#e4524c"/><circle cx="2025.8" cy="692.0" r="5.9" fill="#c83a38" opacity="0.6"/><polygon points="2077.4,668.8 2048.0,652.7 2040.9,664.9 2069.6,682.3" fill="#dc4a44"/><polygon points="2042.8,669.4 2024.3,666.3 2021.2,655.9 2028.8,652.6 2027.5,645.1 2035.9,642.3 2035.8,634.6 2053.7,650.6" fill="#e4524c"/><circle cx="2036.0" cy="653.9" r="5.9" fill="#c83a38" opacity="0.6"/><circle cx="2102" cy="692" r="47" fill="url(#virusG)"/><circle cx="2087.9" cy="708.5" r="8.8" fill="#e0504a" opacity="0.85"/><circle cx="2095.7" cy="717.3" r="6.9" fill="#d84844" opacity="0.85"/></g>
<g filter="url(#blur1)"><polygon points="1708.2,921.4 1702.0,891.1 1686.9,893.7 1691.4,924.3" fill="#dc4a44"/><polygon points="1684.5,898.5 1674.1,880.9 1680.6,871.1 1688.6,875.1 1693.9,868.7 1702.2,873.8 1708.5,868.3 1707.6,894.4" fill="#e4524c"/><circle cx="1692.6" cy="881.9" r="6.4" fill="#c83a38" opacity="0.6"/><polygon points="1731.2,931.3 1745.9,904.1 1732.7,896.5 1716.5,922.8" fill="#dc4a44"/><polygon points="1727.8,898.6 1731.1,878.4 1742.4,875.1 1746.0,883.3 1754.1,881.9 1757.2,891.0 1765.6,890.9 1748.1,910.3" fill="#e4524c"/><circle cx="1744.6" cy="891.1" r="6.4" fill="#c83a38" opacity="0.6"/><polygon points="1742.5,953.8 1771.2,942.4 1766.0,928.0 1736.6,937.8" fill="#dc4a44"/><polygon points="1760.9,926.5 1776.4,913.2 1787.2,917.9 1784.7,926.5 1791.8,930.6 1788.3,939.6 1794.8,944.9 1768.9,948.5" fill="#e4524c"/><circle cx="1778.6" cy="931.6" r="6.4" fill="#c83a38" opacity="0.6"/><polygon points="1736.6,978.2 1766.0,988.0 1771.2,973.6 1742.5,962.2" fill="#dc4a44"/><polygon points="1768.3,969.1 1788.8,968.9 1794.0,979.4 1786.5,984.4 1789.3,992.2 1780.9,996.8 1782.4,1005.0 1760.3,991.2" fill="#e4524c"/><circle cx="1778.6" cy="984.4" r="6.4" fill="#c83a38" opacity="0.6"/><polygon points="1716.5,993.2 1732.7,1019.5 1745.9,1011.9 1731.2,984.7" fill="#dc4a44"/><polygon points="1746.6,1006.6 1762.4,1019.5 1759.6,1031.0 1750.7,1030.0 1747.9,1037.7 1738.4,1035.8 1734.3,1043.1 1726.2,1018.3" fill="#e4524c"/><circle cx="1744.6" cy="1024.9" r="6.4" fill="#c83a38" opacity="0.6"/><polygon points="1691.4,991.7 1686.9,1022.3 1702.0,1024.9 1708.2,994.6" fill="#dc4a44"/><polygon points="1705.8,1021.3 1709.6,1041.4 1700.2,1048.4 1694.0,1041.9 1686.8,1046.0 1680.8,1038.5 1673.0,1041.4 1682.7,1017.2" fill="#e4524c"/><circle cx="1692.6" cy="1034.1" r="6.4" fill="#c83a38" opacity="0.6"/><polygon points="1673.2,974.4 1650.0,995.0 1659.9,1006.7 1684.1,987.5" fill="#dc4a44"/><polygon points="1665.2,1006.4 1655.2,1024.2 1643.4,1023.5 1642.9,1014.5 1634.7,1013.1 1635.0,1003.5 1627.1,1000.6 1650.1,988.4" fill="#e4524c"/><circle cx="1646.8" cy="1007.7" r="6.4" fill="#c83a38" opacity="0.6"/><polygon points="1669.7,952.6 1639.0,956.2 1640.3,971.4 1671.2,969.6" fill="#dc4a44"/><polygon points="1644.8,974.2 1626.4,983.1 1617.2,975.7 1621.9,968.1 1616.0,962.2 1621.7,954.5 1616.9,947.7 1642.8,950.8" fill="#e4524c"/><circle cx="1629.0" cy="964.7" r="6.4" fill="#c83a38" opacity="0.6"/><polygon points="1684.1,928.5 1659.9,909.3 1650.0,921.0 1673.2,941.6" fill="#dc4a44"/><polygon points="1651.3,926.2 1632.0,919.4 1630.7,907.8 1639.4,905.6 1639.4,897.4 1648.9,895.9 1650.3,887.7 1666.3,908.2" fill="#e4524c"/><circle cx="1646.8" cy="908.3" r="6.4" fill="#c83a38" opacity="0.6"/><circle cx="1706" cy="958" r="51" fill="url(#virusG)"/><circle cx="1711.1" cy="968.2" r="9.6" fill="#e0504a" opacity="0.85"/><circle cx="1719.6" cy="977.8" r="7.4" fill="#d84844" opacity="0.85"/></g>
<text x="1661" y="766" font-family="Liberation Sans, sans-serif" font-size="48" font-weight="normal" text-anchor="middle" fill="#333" >SARS-CoV-2</text>
<line x1="1723" y1="784" x2="1723" y2="822" stroke="#111" stroke-width="5"/>
<polygon points="1713,818 1733,818 1723,840" fill="#111"/>
<text x="1007" y="1063" font-family="Liberation Sans, sans-serif" font-size="48" font-weight="normal" text-anchor="start" fill="#333" >Aptamer</text>
<line x1="1209" y1="1049" x2="1240" y2="1049" stroke="#111" stroke-width="6"/>
<polygon points="1236,1039 1236,1059 1258,1049" fill="#111"/>
<text x="997" y="1218" font-family="Liberation Sans, sans-serif" font-size="50" font-weight="normal" text-anchor="start" fill="#333" >PC</text>
<line x1="1102" y1="1201" x2="1166" y2="1201" stroke="#111" stroke-width="7"/>
<polygon points="1162,1190 1162,1212 1186,1201" fill="#111"/>
<path d="M1241.0,1455.9 C1246.9,1452.1 1261.2,1464.2 1271.3,1465.6 C1281.4,1466.9 1291.5,1465.6 1301.6,1464.1 C1311.7,1462.6 1321.8,1457.4 1331.9,1456.7 C1342.0,1455.9 1352.1,1459.4 1362.2,1459.7 C1372.3,1460.1 1382.4,1458.5 1392.5,1458.8 C1402.6,1459.1 1412.7,1460.6 1422.8,1461.3 C1432.9,1462.0 1443.0,1464.3 1453.1,1462.9 C1463.2,1461.5 1473.3,1454.8 1483.4,1452.9 C1493.5,1451.0 1503.6,1450.1 1513.7,1451.7 C1523.8,1453.3 1533.9,1461.9 1544.0,1462.7 C1554.1,1463.5 1564.2,1457.0 1574.3,1456.8 C1584.4,1456.5 1594.5,1462.2 1604.6,1461.1 C1614.7,1460.0 1624.8,1452.6 1634.9,1450.1 C1645.0,1447.6 1655.1,1446.1 1665.2,1446.0 C1675.3,1445.9 1685.4,1450.2 1695.5,1449.6 C1705.6,1449.0 1715.7,1442.0 1725.8,1442.4 C1735.9,1442.8 1746.0,1449.0 1756.1,1452.1 C1766.2,1455.3 1776.3,1461.8 1786.4,1461.2 C1796.5,1460.7 1806.6,1450.9 1816.7,1448.7 C1826.8,1446.6 1836.9,1447.3 1847.0,1448.4 C1857.1,1449.4 1867.2,1453.2 1877.3,1455.3 C1887.4,1457.3 1897.5,1461.0 1907.6,1460.5 C1917.7,1460.1 1927.8,1454.2 1937.9,1452.4 C1948.0,1450.7 1958.1,1449.8 1968.2,1449.8 C1978.3,1449.8 1988.4,1452.9 1998.5,1452.4 C2008.6,1451.9 2018.7,1447.2 2028.8,1446.6 C2038.9,1446.0 2049.0,1448.1 2059.1,1449.0 C2069.2,1449.9 2079.3,1451.2 2089.4,1451.7 C2099.5,1452.3 2109.6,1452.8 2119.7,1452.2 C2129.8,1451.7 2138.3,1437.0 2150.0,1448.3 C2161.7,1459.6 2176.7,1491.4 2190.0,1520.0 C2203.3,1548.6 2218.0,1588.0 2230.0,1620.0 C2242.0,1652.0 2252.0,1688.7 2262.0,1712.0 C2272.0,1735.3 2281.7,1743.7 2290.0,1760.0 C2298.3,1776.3 2305.0,1793.0 2312.0,1810.0 C2319.0,1827.0 2325.7,1843.3 2332.0,1862.0 C2338.3,1880.7 2348.7,1911.0 2350.0,1922.0 C2351.3,1933.0 2348.3,1926.7 2340.0,1928.0 C2331.7,1929.3 2313.0,1929.4 2300.0,1929.9 C2287.0,1930.3 2274.5,1930.2 2262.0,1930.7 C2249.5,1931.3 2237.0,1933.2 2225.0,1933.1 C2213.0,1932.9 2202.5,1929.9 2190.0,1929.8 C2177.5,1929.8 2163.3,1934.7 2150.0,1932.8 C2136.7,1930.9 2123.3,1919.7 2110.0,1918.5 C2096.7,1917.2 2083.3,1927.5 2070.0,1925.4 C2056.7,1923.4 2043.3,1905.5 2030.0,1906.0 C2016.7,1906.5 2003.3,1924.0 1990.0,1928.4 C1976.7,1932.8 1963.3,1928.8 1950.0,1932.4 C1936.7,1936.0 1922.5,1951.2 1910.0,1950.0 C1897.5,1948.8 1886.7,1930.2 1875.0,1925.5 C1863.3,1920.8 1852.5,1921.7 1840.0,1921.9 C1827.5,1922.1 1811.8,1923.0 1800.0,1926.7 C1788.2,1930.4 1779.0,1945.4 1769.0,1944.0 C1759.0,1942.6 1751.5,1922.0 1740.0,1918.2 C1728.5,1914.5 1713.3,1920.8 1700.0,1921.5 C1686.7,1922.2 1673.3,1925.0 1660.0,1922.5 C1646.7,1919.9 1632.5,1904.7 1620.0,1906.0 C1607.5,1907.3 1596.7,1927.8 1585.0,1930.3 C1573.3,1932.7 1562.5,1920.5 1550.0,1920.6 C1537.5,1920.6 1523.3,1933.2 1510.0,1930.8 C1496.7,1928.3 1483.3,1906.5 1470.0,1906.0 C1456.7,1905.5 1443.3,1925.5 1430.0,1927.9 C1416.7,1930.2 1403.3,1923.7 1390.0,1920.0 C1376.7,1916.4 1363.3,1904.0 1350.0,1906.0 C1336.7,1908.0 1323.3,1929.4 1310.0,1931.9 C1296.7,1934.5 1283.3,1923.1 1270.0,1921.4 C1256.7,1919.6 1243.3,1919.4 1230.0,1921.4 C1216.7,1923.5 1203.3,1932.0 1190.0,1933.7 C1176.7,1935.5 1163.3,1933.8 1150.0,1932.0 C1136.7,1930.1 1121.7,1922.4 1110.0,1922.6 C1098.3,1922.9 1086.0,1933.8 1080.0,1933.4 C1074.0,1932.9 1073.0,1927.2 1074.0,1920.0 C1075.0,1912.8 1081.7,1899.0 1086.0,1890.0 C1090.3,1881.0 1096.0,1874.3 1100.0,1866.0 C1104.0,1857.7 1106.0,1849.0 1110.0,1840.0 C1114.0,1831.0 1120.0,1821.3 1124.0,1812.0 C1128.0,1802.7 1130.3,1793.0 1134.0,1784.0 C1137.7,1775.0 1142.7,1767.0 1146.0,1758.0 C1149.3,1749.0 1150.7,1739.0 1154.0,1730.0 C1157.3,1721.0 1162.7,1713.0 1166.0,1704.0 C1169.3,1695.0 1170.7,1685.0 1174.0,1676.0 C1177.3,1667.0 1182.7,1659.0 1186.0,1650.0 C1189.3,1641.0 1190.8,1631.0 1194.0,1622.0 C1197.2,1613.0 1202.0,1605.3 1205.0,1596.0 C1208.0,1586.7 1209.2,1575.3 1212.0,1566.0 C1214.8,1556.7 1219.3,1549.0 1222.0,1540.0 C1224.7,1531.0 1225.7,1520.7 1228.0,1512.0 C1230.3,1503.3 1233.8,1497.4 1236.0,1488.0 C1238.2,1478.6 1235.1,1459.6 1241.0,1455.9 Z" fill="#0a0cf0"/>
<clipPath id="surfClip"><path d="M1241.0,1455.9 C1246.9,1452.1 1261.2,1464.2 1271.3,1465.6 C1281.4,1466.9 1291.5,1465.6 1301.6,1464.1 C1311.7,1462.6 1321.8,1457.4 1331.9,1456.7 C1342.0,1455.9 1352.1,1459.4 1362.2,1459.7 C1372.3,1460.1 1382.4,1458.5 1392.5,1458.8 C1402.6,1459.1 1412.7,1460.6 1422.8,1461.3 C1432.9,1462.0 1443.0,1464.3 1453.1,1462.9 C1463.2,1461.5 1473.3,1454.8 1483.4,1452.9 C1493.5,1451.0 1503.6,1450.1 1513.7,1451.7 C1523.8,1453.3 1533.9,1461.9 1544.0,1462.7 C1554.1,1463.5 1564.2,1457.0 1574.3,1456.8 C1584.4,1456.5 1594.5,1462.2 1604.6,1461.1 C1614.7,1460.0 1624.8,1452.6 1634.9,1450.1 C1645.0,1447.6 1655.1,1446.1 1665.2,1446.0 C1675.3,1445.9 1685.4,1450.2 1695.5,1449.6 C1705.6,1449.0 1715.7,1442.0 1725.8,1442.4 C1735.9,1442.8 1746.0,1449.0 1756.1,1452.1 C1766.2,1455.3 1776.3,1461.8 1786.4,1461.2 C1796.5,1460.7 1806.6,1450.9 1816.7,1448.7 C1826.8,1446.6 1836.9,1447.3 1847.0,1448.4 C1857.1,1449.4 1867.2,1453.2 1877.3,1455.3 C1887.4,1457.3 1897.5,1461.0 1907.6,1460.5 C1917.7,1460.1 1927.8,1454.2 1937.9,1452.4 C1948.0,1450.7 1958.1,1449.8 1968.2,1449.8 C1978.3,1449.8 1988.4,1452.9 1998.5,1452.4 C2008.6,1451.9 2018.7,1447.2 2028.8,1446.6 C2038.9,1446.0 2049.0,1448.1 2059.1,1449.0 C2069.2,1449.9 2079.3,1451.2 2089.4,1451.7 C2099.5,1452.3 2109.6,1452.8 2119.7,1452.2 C2129.8,1451.7 2138.3,1437.0 2150.0,1448.3 C2161.7,1459.6 2176.7,1491.4 2190.0,1520.0 C2203.3,1548.6 2218.0,1588.0 2230.0,1620.0 C2242.0,1652.0 2252.0,1688.7 2262.0,1712.0 C2272.0,1735.3 2281.7,1743.7 2290.0,1760.0 C2298.3,1776.3 2305.0,1793.0 2312.0,1810.0 C2319.0,1827.0 2325.7,1843.3 2332.0,1862.0 C2338.3,1880.7 2348.7,1911.0 2350.0,1922.0 C2351.3,1933.0 2348.3,1926.7 2340.0,1928.0 C2331.7,1929.3 2313.0,1929.4 2300.0,1929.9 C2287.0,1930.3 2274.5,1930.2 2262.0,1930.7 C2249.5,1931.3 2237.0,1933.2 2225.0,1933.1 C2213.0,1932.9 2202.5,1929.9 2190.0,1929.8 C2177.5,1929.8 2163.3,1934.7 2150.0,1932.8 C2136.7,1930.9 2123.3,1919.7 2110.0,1918.5 C2096.7,1917.2 2083.3,1927.5 2070.0,1925.4 C2056.7,1923.4 2043.3,1905.5 2030.0,1906.0 C2016.7,1906.5 2003.3,1924.0 1990.0,1928.4 C1976.7,1932.8 1963.3,1928.8 1950.0,1932.4 C1936.7,1936.0 1922.5,1951.2 1910.0,1950.0 C1897.5,1948.8 1886.7,1930.2 1875.0,1925.5 C1863.3,1920.8 1852.5,1921.7 1840.0,1921.9 C1827.5,1922.1 1811.8,1923.0 1800.0,1926.7 C1788.2,1930.4 1779.0,1945.4 1769.0,1944.0 C1759.0,1942.6 1751.5,1922.0 1740.0,1918.2 C1728.5,1914.5 1713.3,1920.8 1700.0,1921.5 C1686.7,1922.2 1673.3,1925.0 1660.0,1922.5 C1646.7,1919.9 1632.5,1904.7 1620.0,1906.0 C1607.5,1907.3 1596.7,1927.8 1585.0,1930.3 C1573.3,1932.7 1562.5,1920.5 1550.0,1920.6 C1537.5,1920.6 1523.3,1933.2 1510.0,1930.8 C1496.7,1928.3 1483.3,1906.5 1470.0,1906.0 C1456.7,1905.5 1443.3,1925.5 1430.0,1927.9 C1416.7,1930.2 1403.3,1923.7 1390.0,1920.0 C1376.7,1916.4 1363.3,1904.0 1350.0,1906.0 C1336.7,1908.0 1323.3,1929.4 1310.0,1931.9 C1296.7,1934.5 1283.3,1923.1 1270.0,1921.4 C1256.7,1919.6 1243.3,1919.4 1230.0,1921.4 C1216.7,1923.5 1203.3,1932.0 1190.0,1933.7 C1176.7,1935.5 1163.3,1933.8 1150.0,1932.0 C1136.7,1930.1 1121.7,1922.4 1110.0,1922.6 C1098.3,1922.9 1086.0,1933.8 1080.0,1933.4 C1074.0,1932.9 1073.0,1927.2 1074.0,1920.0 C1075.0,1912.8 1081.7,1899.0 1086.0,1890.0 C1090.3,1881.0 1096.0,1874.3 1100.0,1866.0 C1104.0,1857.7 1106.0,1849.0 1110.0,1840.0 C1114.0,1831.0 1120.0,1821.3 1124.0,1812.0 C1128.0,1802.7 1130.3,1793.0 1134.0,1784.0 C1137.7,1775.0 1142.7,1767.0 1146.0,1758.0 C1149.3,1749.0 1150.7,1739.0 1154.0,1730.0 C1157.3,1721.0 1162.7,1713.0 1166.0,1704.0 C1169.3,1695.0 1170.7,1685.0 1174.0,1676.0 C1177.3,1667.0 1182.7,1659.0 1186.0,1650.0 C1189.3,1641.0 1190.8,1631.0 1194.0,1622.0 C1197.2,1613.0 1202.0,1605.3 1205.0,1596.0 C1208.0,1586.7 1209.2,1575.3 1212.0,1566.0 C1214.8,1556.7 1219.3,1549.0 1222.0,1540.0 C1224.7,1531.0 1225.7,1520.7 1228.0,1512.0 C1230.3,1503.3 1233.8,1497.4 1236.0,1488.0 C1238.2,1478.6 1235.1,1459.6 1241.0,1455.9 Z"/></clipPath>
<g clip-path="url(#surfClip)"><ellipse cx="1380" cy="1716" rx="29" ry="17" fill="url(#bump)" opacity="0.5"/><ellipse cx="1868" cy="1491" rx="22" ry="15" fill="url(#bump)" opacity="0.5"/><ellipse cx="1407" cy="1570" rx="40" ry="23" fill="url(#bump)" opacity="0.5"/><ellipse cx="2134" cy="1684" rx="34" ry="16" fill="url(#bump)" opacity="0.5"/><ellipse cx="1880" cy="1868" rx="31" ry="20" fill="url(#bump)" opacity="0.5"/><ellipse cx="1926" cy="1490" rx="36" ry="21" fill="url(#bump)" opacity="0.5"/><ellipse cx="1460" cy="1475" rx="38" ry="21" fill="url(#bump)" opacity="0.5"/><ellipse cx="1986" cy="1873" rx="35" ry="24" fill="url(#bump)" opacity="0.5"/><ellipse cx="1578" cy="1836" rx="30" ry="21" fill="url(#bump)" opacity="0.5"/><ellipse cx="2187" cy="1506" rx="24" ry="12" fill="url(#bump)" opacity="0.5"/><ellipse cx="2297" cy="1665" rx="33" ry="17" fill="url(#bump)" opacity="0.5"/><ellipse cx="1719" cy="1641" rx="28" ry="17" fill="url(#bump)" opacity="0.5"/><ellipse cx="1816" cy="1885" rx="34" ry="23" fill="url(#bump)" opacity="0.5"/><ellipse cx="2159" cy="1926" rx="34" ry="17" fill="url(#bump)" opacity="0.5"/><ellipse cx="2164" cy="1913" rx="38" ry="23" fill="url(#bump)" opacity="0.5"/><ellipse cx="1979" cy="1559" rx="37" ry="22" fill="url(#bump)" opacity="0.5"/><ellipse cx="1439" cy="1490" rx="37" ry="26" fill="url(#bump)" opacity="0.5"/><ellipse cx="1192" cy="1836" rx="29" ry="14" fill="url(#bump)" opacity="0.5"/><ellipse cx="1450" cy="1821" rx="38" ry="17" fill="url(#bump)" opacity="0.5"/><ellipse cx="1854" cy="1481" rx="35" ry="19" fill="url(#bump)" opacity="0.5"/><ellipse cx="2190" cy="1921" rx="31" ry="22" fill="url(#bump)" opacity="0.5"/><ellipse cx="1470" cy="1496" rx="33" ry="15" fill="url(#bump)" opacity="0.5"/><ellipse cx="1329" cy="1652" rx="33" ry="16" fill="url(#bump)" opacity="0.5"/><ellipse cx="1133" cy="1868" rx="28" ry="19" fill="url(#bump)" opacity="0.5"/><ellipse cx="2210" cy="1638" rx="30" ry="18" fill="url(#bump)" opacity="0.5"/><ellipse cx="1891" cy="1740" rx="32" ry="19" fill="url(#bump)" opacity="0.5"/><ellipse cx="2265" cy="1698" rx="30" ry="19" fill="url(#bump)" opacity="0.5"/><ellipse cx="1379" cy="1602" rx="40" ry="23" fill="url(#bump)" opacity="0.5"/><ellipse cx="1771" cy="1465" rx="29" ry="18" fill="url(#bump)" opacity="0.5"/><ellipse cx="1105" cy="1749" rx="33" ry="16" fill="url(#bump)" opacity="0.5"/><ellipse cx="1870" cy="1679" rx="34" ry="18" fill="url(#bump)" opacity="0.5"/><ellipse cx="1971" cy="1807" rx="22" ry="10" fill="url(#bump)" opacity="0.5"/><ellipse cx="1932" cy="1913" rx="27" ry="15" fill="url(#bump)" opacity="0.5"/><ellipse cx="1827" cy="1610" rx="29" ry="15" fill="url(#bump)" opacity="0.5"/><ellipse cx="1545" cy="1740" rx="27" ry="15" fill="url(#bump)" opacity="0.5"/><ellipse cx="2053" cy="1473" rx="32" ry="20" fill="url(#bump)" opacity="0.5"/><ellipse cx="1471" cy="1565" rx="36" ry="19" fill="url(#bump)" opacity="0.5"/><ellipse cx="1316" cy="1665" rx="35" ry="16" fill="url(#bump)" opacity="0.5"/><ellipse cx="1486" cy="1617" rx="37" ry="21" fill="url(#bump)" opacity="0.5"/><ellipse cx="2158" cy="1540" rx="28" ry="17" fill="url(#bump)" opacity="0.5"/><ellipse cx="2195" cy="1672" rx="26" ry="13" fill="url(#bump)" opacity="0.5"/><ellipse cx="1747" cy="1550" rx="37" ry="24" fill="url(#bump)" opacity="0.5"/><ellipse cx="1311" cy="1591" rx="37" ry="22" fill="url(#bump)" opacity="0.5"/><ellipse cx="2096" cy="1622" rx="24" ry="13" fill="url(#bump)" opacity="0.5"/><ellipse cx="2080" cy="1587" rx="28" ry="16" fill="url(#bump)" opacity="0.5"/><ellipse cx="1609" cy="1652" rx="39" ry="19" fill="url(#bump)" opacity="0.5"/><ellipse cx="1086" cy="1903" rx="38" ry="26" fill="url(#bump)" opacity="0.5"/><ellipse cx="1627" cy="1907" rx="39" ry="20" fill="url(#bump)" opacity="0.5"/><ellipse cx="2019" cy="1853" rx="34" ry="20" fill="url(#bump)" opacity="0.5"/><ellipse cx="1444" cy="1620" rx="26" ry="12" fill="url(#bump)" opacity="0.5"/><ellipse cx="1822" cy="1595" rx="37" ry="17" fill="url(#bump)" opacity="0.5"/><ellipse cx="2219" cy="1786" rx="39" ry="26" fill="url(#bump)" opacity="0.5"/><ellipse cx="2214" cy="1731" rx="22" ry="14" fill="url(#bump)" opacity="0.5"/><ellipse cx="1296" cy="1601" rx="34" ry="20" fill="url(#bump)" opacity="0.5"/><ellipse cx="1601" cy="1901" rx="33" ry="18" fill="url(#bump)" opacity="0.5"/><ellipse cx="1398" cy="1865" rx="31" ry="20" fill="url(#bump)" opacity="0.5"/><ellipse cx="1523" cy="1553" rx="32" ry="21" fill="url(#bump)" opacity="0.5"/><ellipse cx="1296" cy="1832" rx="39" ry="25" fill="url(#bump)" opacity="0.5"/><ellipse cx="2118" cy="1464" rx="33" ry="22" fill="url(#bump)" opacity="0.5"/><ellipse cx="1143" cy="1588" rx="27" ry="16" fill="url(#bump)" opacity="0.5"/><ellipse cx="1613" cy="1682" rx="36" ry="16" fill="url(#bump)" opacity="0.5"/><ellipse cx="1149" cy="1520" rx="24" ry="11" fill="url(#bump)" opacity="0.5"/><ellipse cx="2308" cy="1862" rx="24" ry="14" fill="url(#bump)" opacity="0.5"/><ellipse cx="1478" cy="1608" rx="28" ry="17" fill="url(#bump)" opacity="0.5"/><ellipse cx="1819" cy="1630" rx="25" ry="14" fill="url(#bump)" opacity="0.5"/><ellipse cx="1236" cy="1721" rx="35" ry="19" fill="url(#bump)" opacity="0.5"/><ellipse cx="1181" cy="1544" rx="29" ry="17" fill="url(#bump)" opacity="0.5"/><ellipse cx="2066" cy="1639" rx="36" ry="22" fill="url(#bump)" opacity="0.5"/><ellipse cx="1624" cy="1635" rx="31" ry="19" fill="url(#bump)" opacity="0.5"/><ellipse cx="1610" cy="1786" rx="30" ry="15" fill="url(#bump)" opacity="0.5"/><ellipse cx="1755" cy="1787" rx="23" ry="13" fill="url(#bump)" opacity="0.5"/><ellipse cx="1617" cy="1873" rx="39" ry="21" fill="url(#bump)" opacity="0.5"/><ellipse cx="2211" cy="1832" rx="27" ry="15" fill="url(#bump)" opacity="0.5"/><ellipse cx="1235" cy="1842" rx="34" ry="23" fill="url(#bump)" opacity="0.5"/><ellipse cx="2079" cy="1774" rx="35" ry="21" fill="url(#bump)" opacity="0.5"/><ellipse cx="1210" cy="1736" rx="22" ry="11" fill="url(#bump)" opacity="0.5"/><ellipse cx="2056" cy="1481" rx="24" ry="11" fill="url(#bump)" opacity="0.5"/><ellipse cx="2189" cy="1544" rx="22" ry="15" fill="url(#bump)" opacity="0.5"/><ellipse cx="1233" cy="1857" rx="34" ry="22" fill="url(#bump)" opacity="0.5"/><ellipse cx="2280" cy="1732" rx="36" ry="17" fill="url(#bump)" opacity="0.5"/><ellipse cx="2047" cy="1700" rx="35" ry="17" fill="url(#bump)" opacity="0.5"/><ellipse cx="2024" cy="1899" rx="23" ry="12" fill="url(#bump)" opacity="0.5"/><ellipse cx="1791" cy="1849" rx="26" ry="13" fill="url(#bump)" opacity="0.5"/><ellipse cx="1395" cy="1750" rx="36" ry="20" fill="url(#bump)" opacity="0.5"/><ellipse cx="1543" cy="1646" rx="28" ry="16" fill="url(#bump)" opacity="0.5"/><ellipse cx="1185" cy="1695" rx="40" ry="22" fill="url(#bump)" opacity="0.5"/><ellipse cx="2022" cy="1535" rx="34" ry="22" fill="url(#bump)" opacity="0.5"/><ellipse cx="1929" cy="1703" rx="31" ry="19" fill="url(#bump)" opacity="0.5"/><ellipse cx="2211" cy="1530" rx="24" ry="15" fill="url(#bump)" opacity="0.5"/><ellipse cx="2235" cy="1703" rx="30" ry="19" fill="url(#bump)" opacity="0.5"/><ellipse cx="1314" cy="1586" rx="26" ry="15" fill="url(#bump)" opacity="0.5"/><ellipse cx="1477" cy="1569" rx="34" ry="24" fill="url(#bump)" opacity="0.5"/><ellipse cx="1453" cy="1792" rx="29" ry="20" fill="url(#bump)" opacity="0.5"/><ellipse cx="1817" cy="1586" rx="26" ry="12" fill="url(#bump)" opacity="0.5"/><ellipse cx="1684" cy="1640" rx="25" ry="14" fill="url(#bump)" opacity="0.5"/><ellipse cx="1486" cy="1824" rx="25" ry="17" fill="url(#bump)" opacity="0.5"/><ellipse cx="1684" cy="1742" rx="30" ry="20" fill="url(#bump)" opacity="0.5"/><ellipse cx="2115" cy="1722" rx="31" ry="19" fill="url(#bump)" opacity="0.5"/><ellipse cx="2159" cy="1648" rx="35" ry="24" fill="url(#bump)" opacity="0.5"/><ellipse cx="1669" cy="1568" rx="26" ry="17" fill="url(#bump)" opacity="0.5"/><ellipse cx="1931" cy="1911" rx="37" ry="19" fill="url(#bump)" opacity="0.5"/><ellipse cx="1319" cy="1582" rx="25" ry="16" fill="url(#bump)" opacity="0.5"/><ellipse cx="2162" cy="1883" rx="27" ry="18" fill="url(#bump)" opacity="0.5"/><ellipse cx="1475" cy="1659" rx="35" ry="17" fill="url(#bump)" opacity="0.5"/><ellipse cx="1197" cy="1852" rx="27" ry="15" fill="url(#bump)" opacity="0.5"/><ellipse cx="1811" cy="1777" rx="22" ry="12" fill="url(#bump)" opacity="0.5"/><ellipse cx="1630" cy="1688" rx="26" ry="15" fill="url(#bump)" opacity="0.5"/><ellipse cx="2284" cy="1644" rx="32" ry="15" fill="url(#bump)" opacity="0.5"/><ellipse cx="1426" cy="1773" rx="24" ry="16" fill="url(#bump)" opacity="0.5"/><ellipse cx="2225" cy="1506" rx="39" ry="21" fill="url(#bump)" opacity="0.5"/><ellipse cx="2053" cy="1816" rx="27" ry="17" fill="url(#bump)" opacity="0.5"/><ellipse cx="1904" cy="1839" rx="27" ry="17" fill="url(#bump)" opacity="0.5"/><ellipse cx="2291" cy="1776" rx="32" ry="15" fill="url(#bump)" opacity="0.5"/><ellipse cx="1702" cy="1626" rx="35" ry="22" fill="url(#bump)" opacity="0.5"/><ellipse cx="1794" cy="1546" rx="34" ry="20" fill="url(#bump)" opacity="0.5"/><ellipse cx="1306" cy="1878" rx="34" ry="16" fill="url(#bump)" opacity="0.5"/><ellipse cx="2254" cy="1526" rx="28" ry="18" fill="url(#bump)" opacity="0.5"/><ellipse cx="1833" cy="1721" rx="34" ry="19" fill="url(#bump)" opacity="0.5"/><ellipse cx="1474" cy="1543" rx="23" ry="15" fill="url(#bump)" opacity="0.5"/><ellipse cx="2031" cy="1715" rx="35" ry="19" fill="url(#bump)" opacity="0.5"/><ellipse cx="1415" cy="1640" rx="38" ry="17" fill="url(#bump)" opacity="0.5"/><ellipse cx="1716" cy="1576" rx="36" ry="19" fill="url(#bump)" opacity="0.5"/><ellipse cx="1499" cy="1650" rx="32" ry="20" fill="url(#bump)" opacity="0.5"/><ellipse cx="1525" cy="1858" rx="24" ry="12" fill="url(#bump)" opacity="0.5"/><ellipse cx="1206" cy="1513" rx="36" ry="23" fill="url(#bump)" opacity="0.5"/><ellipse cx="1313" cy="1549" rx="29" ry="19" fill="url(#bump)" opacity="0.5"/><ellipse cx="2108" cy="1812" rx="33" ry="16" fill="url(#bump)" opacity="0.5"/><ellipse cx="1582" cy="1551" rx="31" ry="19" fill="url(#bump)" opacity="0.5"/><ellipse cx="1335" cy="1578" rx="36" ry="17" fill="url(#bump)" opacity="0.5"/><ellipse cx="2092" cy="1879" rx="39" ry="21" fill="url(#bump)" opacity="0.5"/><ellipse cx="1776" cy="1734" rx="33" ry="23" fill="url(#bump)" opacity="0.5"/><ellipse cx="1945" cy="1601" rx="37" ry="21" fill="url(#bump)" opacity="0.5"/><ellipse cx="1838" cy="1802" rx="22" ry="14" fill="url(#bump)" opacity="0.5"/><ellipse cx="1914" cy="1691" rx="31" ry="18" fill="url(#bump)" opacity="0.5"/><ellipse cx="1324" cy="1709" rx="23" ry="13" fill="url(#bump)" opacity="0.5"/><ellipse cx="1894" cy="1669" rx="32" ry="22" fill="url(#bump)" opacity="0.5"/><ellipse cx="2204" cy="1524" rx="36" ry="22" fill="url(#bump)" opacity="0.5"/><ellipse cx="1144" cy="1629" rx="26" ry="12" fill="url(#bump)" opacity="0.5"/><ellipse cx="1759" cy="1897" rx="28" ry="19" fill="url(#bump)" opacity="0.5"/><ellipse cx="1955" cy="1523" rx="37" ry="22" fill="url(#bump)" opacity="0.5"/><ellipse cx="2248" cy="1796" rx="35" ry="19" fill="url(#bump)" opacity="0.5"/><ellipse cx="2096" cy="1898" rx="38" ry="21" fill="url(#bump)" opacity="0.5"/><ellipse cx="2034" cy="1688" rx="24" ry="11" fill="url(#bump)" opacity="0.5"/><ellipse cx="1178" cy="1554" rx="25" ry="14" fill="url(#bump)" opacity="0.5"/><ellipse cx="1961" cy="1713" rx="30" ry="18" fill="url(#bump)" opacity="0.5"/><ellipse cx="1464" cy="1678" rx="36" ry="20" fill="url(#bump)" opacity="0.5"/><ellipse cx="1308" cy="1883" rx="35" ry="19" fill="url(#bump)" opacity="0.5"/><ellipse cx="1547" cy="1709" rx="33" ry="17" fill="url(#bump)" opacity="0.5"/><ellipse cx="1083" cy="1558" rx="36" ry="18" fill="url(#bump)" opacity="0.5"/><ellipse cx="1660" cy="1552" rx="26" ry="13" fill="url(#bump)" opacity="0.5"/><ellipse cx="1589" cy="1539" rx="22" ry="11" fill="url(#bump)" opacity="0.5"/><ellipse cx="1292" cy="1690" rx="23" ry="11" fill="url(#bump)" opacity="0.5"/><ellipse cx="1645" cy="1652" rx="35" ry="16" fill="url(#bump)" opacity="0.5"/><ellipse cx="1588" cy="1646" rx="22" ry="16" fill="url(#bump)" opacity="0.5"/><ellipse cx="1356" cy="1504" rx="31" ry="15" fill="url(#bump)" opacity="0.5"/><ellipse cx="1864" cy="1623" rx="24" ry="11" fill="url(#bump)" opacity="0.5"/><ellipse cx="1997" cy="1589" rx="36" ry="20" fill="url(#bump)" opacity="0.5"/><ellipse cx="2255" cy="1601" rx="26" ry="14" fill="url(#bump)" opacity="0.5"/><ellipse cx="2106" cy="1756" rx="28" ry="13" fill="url(#bump)" opacity="0.5"/><ellipse cx="1940" cy="1916" rx="33" ry="15" fill="url(#bump)" opacity="0.5"/><ellipse cx="1118" cy="1503" rx="25" ry="12" fill="url(#bump)" opacity="0.5"/><ellipse cx="1148" cy="1768" rx="38" ry="19" fill="url(#bump)" opacity="0.5"/><ellipse cx="2307" cy="1684" rx="36" ry="25" fill="url(#bump)" opacity="0.5"/><ellipse cx="2265" cy="1476" rx="27" ry="17" fill="url(#bump)" opacity="0.5"/><ellipse cx="2273" cy="1501" rx="27" ry="18" fill="url(#bump)" opacity="0.5"/><ellipse cx="1224" cy="1643" rx="28" ry="17" fill="url(#bump)" opacity="0.5"/><ellipse cx="2250" cy="1542" rx="35" ry="22" fill="url(#bump)" opacity="0.5"/><ellipse cx="2133" cy="1720" rx="39" ry="21" fill="url(#bump)" opacity="0.5"/><ellipse cx="1603" cy="1568" rx="36" ry="21" fill="url(#bump)" opacity="0.5"/><ellipse cx="1420" cy="1540" rx="35" ry="21" fill="url(#bump)" opacity="0.5"/><ellipse cx="1975" cy="1642" rx="30" ry="15" fill="url(#bumpL)" opacity="0.45"/><ellipse cx="1975" cy="1471" rx="29" ry="19" fill="url(#bumpL)" opacity="0.45"/><ellipse cx="1933" cy="1506" rx="25" ry="16" fill="url(#bumpL)" opacity="0.45"/><ellipse cx="1889" cy="1873" rx="37" ry="21" fill="url(#bumpL)" opacity="0.45"/><ellipse cx="2210" cy="1804" rx="27" ry="14" fill="url(#bumpL)" opacity="0.45"/><ellipse cx="1171" cy="1648" rx="39" ry="19" fill="url(#bumpL)" opacity="0.45"/><ellipse cx="1797" cy="1512" rx="22" ry="13" fill="url(#bumpL)" opacity="0.45"/><ellipse cx="1383" cy="1483" rx="23" ry="14" fill="url(#bumpL)" opacity="0.45"/><ellipse cx="1818" cy="1465" rx="25" ry="17" fill="url(#bumpL)" opacity="0.45"/><ellipse cx="1357" cy="1724" rx="28" ry="18" fill="url(#bumpL)" opacity="0.45"/><ellipse cx="1841" cy="1831" rx="31" ry="15" fill="url(#bumpL)" opacity="0.45"/><ellipse cx="1304" cy="1497" rx="37" ry="17" fill="url(#bumpL)" opacity="0.45"/><ellipse cx="1110" cy="1914" rx="24" ry="16" fill="url(#bumpL)" opacity="0.45"/><ellipse cx="1188" cy="1679" rx="24" ry="16" fill="url(#bumpL)" opacity="0.45"/><ellipse cx="1855" cy="1762" rx="35" ry="24" fill="url(#bumpL)" opacity="0.45"/><ellipse cx="1516" cy="1743" rx="29" ry="14" fill="url(#bumpL)" opacity="0.45"/><ellipse cx="2133" cy="1739" rx="36" ry="18" fill="url(#bumpL)" opacity="0.45"/><ellipse cx="1759" cy="1678" rx="35" ry="16" fill="url(#bumpL)" opacity="0.45"/><ellipse cx="1516" cy="1688" rx="21" ry="13" fill="url(#bumpL)" opacity="0.45"/><ellipse cx="2007" cy="1659" rx="33" ry="20" fill="url(#bumpL)" opacity="0.45"/><ellipse cx="1350" cy="1625" rx="40" ry="21" fill="url(#bumpL)" opacity="0.45"/><ellipse cx="1623" cy="1500" rx="24" ry="12" fill="url(#bumpL)" opacity="0.45"/><ellipse cx="2253" cy="1801" rx="37" ry="26" fill="url(#bumpL)" opacity="0.45"/><ellipse cx="1851" cy="1898" rx="31" ry="17" fill="url(#bumpL)" opacity="0.45"/><ellipse cx="2275" cy="1884" rx="39" ry="22" fill="url(#bumpL)" opacity="0.45"/><ellipse cx="2055" cy="1651" rx="40" ry="27" fill="url(#bumpL)" opacity="0.45"/><ellipse cx="1448" cy="1899" rx="24" ry="11" fill="url(#bumpL)" opacity="0.45"/><ellipse cx="1990" cy="1598" rx="30" ry="19" fill="url(#bumpL)" opacity="0.45"/><ellipse cx="1131" cy="1810" rx="26" ry="14" fill="url(#bumpL)" opacity="0.45"/><ellipse cx="1514" cy="1809" rx="35" ry="18" fill="url(#bumpL)" opacity="0.45"/><ellipse cx="1210" cy="1601" rx="28" ry="13" fill="url(#bumpL)" opacity="0.45"/><ellipse cx="1273" cy="1818" rx="34" ry="24" fill="url(#bumpL)" opacity="0.45"/><ellipse cx="2314" cy="1872" rx="27" ry="13" fill="url(#bumpL)" opacity="0.45"/><ellipse cx="1473" cy="1678" rx="31" ry="18" fill="url(#bumpL)" opacity="0.45"/><ellipse cx="1533" cy="1861" rx="26" ry="15" fill="url(#bumpL)" opacity="0.45"/><ellipse cx="2197" cy="1839" rx="26" ry="13" fill="url(#bumpL)" opacity="0.45"/><ellipse cx="2096" cy="1465" rx="23" ry="13" fill="url(#bumpL)" opacity="0.45"/><ellipse cx="1755" cy="1538" rx="21" ry="11" fill="url(#bumpL)" opacity="0.45"/><ellipse cx="2050" cy="1679" rx="40" ry="26" fill="url(#bumpL)" opacity="0.45"/><ellipse cx="2314" cy="1477" rx="24" ry="11" fill="url(#bumpL)" opacity="0.45"/><ellipse cx="1625" cy="1619" rx="21" ry="12" fill="url(#bumpL)" opacity="0.45"/><ellipse cx="1198" cy="1606" rx="25" ry="16" fill="url(#bumpL)" opacity="0.45"/><ellipse cx="1607" cy="1582" rx="21" ry="12" fill="url(#bumpL)" opacity="0.45"/><ellipse cx="1871" cy="1777" rx="38" ry="25" fill="url(#bumpL)" opacity="0.45"/><ellipse cx="1392" cy="1524" rx="35" ry="23" fill="url(#bumpL)" opacity="0.45"/><ellipse cx="1721" cy="1851" rx="31" ry="16" fill="url(#bumpL)" opacity="0.45"/><ellipse cx="1293" cy="1468" rx="33" ry="22" fill="url(#bumpL)" opacity="0.45"/><ellipse cx="2222" cy="1680" rx="33" ry="23" fill="url(#bumpL)" opacity="0.45"/><ellipse cx="2106" cy="1743" rx="28" ry="16" fill="url(#bumpL)" opacity="0.45"/><ellipse cx="1295" cy="1546" rx="34" ry="24" fill="url(#bumpL)" opacity="0.45"/><ellipse cx="1769" cy="1652" rx="27" ry="15" fill="url(#bumpL)" opacity="0.45"/><ellipse cx="2092" cy="1673" rx="39" ry="19" fill="url(#bumpL)" opacity="0.45"/><ellipse cx="1477" cy="1705" rx="28" ry="19" fill="url(#bumpL)" opacity="0.45"/><ellipse cx="2123" cy="1898" rx="32" ry="15" fill="url(#bumpL)" opacity="0.45"/><ellipse cx="1804" cy="1718" rx="30" ry="15" fill="url(#bumpL)" opacity="0.45"/><ellipse cx="1974" cy="1888" rx="22" ry="14" fill="url(#bumpL)" opacity="0.45"/><ellipse cx="1548" cy="1702" rx="38" ry="26" fill="url(#bumpL)" opacity="0.45"/><ellipse cx="1891" cy="1552" rx="38" ry="19" fill="url(#bumpL)" opacity="0.45"/><ellipse cx="1563" cy="1849" rx="26" ry="14" fill="url(#bumpL)" opacity="0.45"/><ellipse cx="2277" cy="1904" rx="26" ry="14" fill="url(#bumpL)" opacity="0.45"/><ellipse cx="1435" cy="1522" rx="25" ry="17" fill="url(#bumpL)" opacity="0.45"/><ellipse cx="1180" cy="1568" rx="24" ry="11" fill="url(#bumpL)" opacity="0.45"/><ellipse cx="1743" cy="1809" rx="37" ry="22" fill="url(#bumpL)" opacity="0.45"/><ellipse cx="2110" cy="1463" rx="26" ry="18" fill="url(#bumpL)" opacity="0.45"/><ellipse cx="1167" cy="1586" rx="30" ry="15" fill="url(#bumpL)" opacity="0.45"/><ellipse cx="1768" cy="1482" rx="25" ry="17" fill="url(#bumpL)" opacity="0.45"/><ellipse cx="1262" cy="1886" rx="24" ry="16" fill="url(#bumpL)" opacity="0.45"/><ellipse cx="1930" cy="1764" rx="23" ry="11" fill="url(#bumpL)" opacity="0.45"/><ellipse cx="2037" cy="1543" rx="24" ry="16" fill="url(#bumpL)" opacity="0.45"/><ellipse cx="2182" cy="1483" rx="39" ry="23" fill="url(#bumpL)" opacity="0.45"/><ellipse cx="1562" cy="1510" rx="28" ry="19" fill="url(#bumpL)" opacity="0.45"/><ellipse cx="1434" cy="1522" rx="23" ry="11" fill="url(#bumpL)" opacity="0.45"/><ellipse cx="1524" cy="1890" rx="22" ry="11" fill="url(#bumpL)" opacity="0.45"/><ellipse cx="2264" cy="1929" rx="40" ry="20" fill="url(#bumpL)" opacity="0.45"/><ellipse cx="1527" cy="1907" rx="30" ry="19" fill="url(#bumpL)" opacity="0.45"/><ellipse cx="1475" cy="1470" rx="27" ry="17" fill="url(#bumpL)" opacity="0.45"/><ellipse cx="2065" cy="1727" rx="29" ry="17" fill="url(#bumpL)" opacity="0.45"/><ellipse cx="1637" cy="1711" rx="37" ry="18" fill="url(#bumpL)" opacity="0.45"/><ellipse cx="1829" cy="1898" rx="37" ry="18" fill="url(#bumpL)" opacity="0.45"/><ellipse cx="2294" cy="1855" rx="23" ry="12" fill="url(#bumpL)" opacity="0.45"/><ellipse cx="1335" cy="1485" rx="40" ry="22" fill="url(#bumpL)" opacity="0.45"/><ellipse cx="2180" cy="1514" rx="20" ry="14" fill="url(#bumpL)" opacity="0.45"/><ellipse cx="2080" cy="1926" rx="34" ry="20" fill="url(#bumpL)" opacity="0.45"/><ellipse cx="2045" cy="1503" rx="31" ry="17" fill="url(#bumpL)" opacity="0.45"/><ellipse cx="1264" cy="1742" rx="26" ry="15" fill="url(#bumpL)" opacity="0.45"/><ellipse cx="1551" cy="1610" rx="27" ry="16" fill="url(#bumpL)" opacity="0.45"/><ellipse cx="2315" cy="1900" rx="37" ry="25" fill="url(#bumpL)" opacity="0.45"/><ellipse cx="1441" cy="1919" rx="25" ry="12" fill="url(#bumpL)" opacity="0.45"/><ellipse cx="1711" cy="1804" rx="27" ry="16" fill="url(#bumpL)" opacity="0.45"/><ellipse cx="1436" cy="1914" rx="29" ry="17" fill="url(#bumpL)" opacity="0.45"/><ellipse cx="1750" cy="1871" rx="40" ry="23" fill="url(#bumpL)" opacity="0.45"/><ellipse cx="1636" cy="1750" rx="21" ry="12" fill="url(#bumpL)" opacity="0.45"/><ellipse cx="2148" cy="1825" rx="21" ry="14" fill="url(#bumpL)" opacity="0.45"/><ellipse cx="1564" cy="1921" rx="27" ry="14" fill="url(#bumpL)" opacity="0.45"/><ellipse cx="1771" cy="1875" rx="29" ry="19" fill="url(#bumpL)" opacity="0.45"/><ellipse cx="1976" cy="1630" rx="26" ry="15" fill="url(#bumpL)" opacity="0.45"/><ellipse cx="1583" cy="1635" rx="33" ry="22" fill="url(#bumpL)" opacity="0.45"/><ellipse cx="1816" cy="1529" rx="24" ry="13" fill="url(#bumpL)" opacity="0.45"/><ellipse cx="1854" cy="1526" rx="22" ry="11" fill="url(#bumpL)" opacity="0.45"/><ellipse cx="1437" cy="1474" rx="31" ry="21" fill="url(#bumpL)" opacity="0.45"/><ellipse cx="1753" cy="1807" rx="37" ry="24" fill="url(#bumpL)" opacity="0.45"/><ellipse cx="2230" cy="1667" rx="34" ry="16" fill="url(#bumpL)" opacity="0.45"/><ellipse cx="2189" cy="1638" rx="30" ry="20" fill="url(#bumpL)" opacity="0.45"/><ellipse cx="1441" cy="1549" rx="36" ry="22" fill="url(#bumpL)" opacity="0.45"/><ellipse cx="1187" cy="1473" rx="27" ry="12" fill="url(#bumpL)" opacity="0.45"/><ellipse cx="2129" cy="1546" rx="25" ry="14" fill="url(#bumpL)" opacity="0.45"/><ellipse cx="1725" cy="1663" rx="33" ry="20" fill="url(#bumpL)" opacity="0.45"/><ellipse cx="1630" cy="1506" rx="40" ry="25" fill="url(#bumpL)" opacity="0.45"/><ellipse cx="1185" cy="1668" rx="35" ry="24" fill="url(#bumpL)" opacity="0.45"/><ellipse cx="1163" cy="1464" rx="30" ry="16" fill="url(#bumpL)" opacity="0.45"/><ellipse cx="2207" cy="1848" rx="27" ry="15" fill="url(#bumpL)" opacity="0.45"/><ellipse cx="1814" cy="1876" rx="24" ry="13" fill="url(#bumpL)" opacity="0.45"/><ellipse cx="1191" cy="1761" rx="21" ry="14" fill="url(#bumpL)" opacity="0.45"/><ellipse cx="1740" cy="1730" rx="22" ry="11" fill="url(#bumpL)" opacity="0.45"/><ellipse cx="1671" cy="1863" rx="31" ry="16" fill="url(#bumpL)" opacity="0.45"/><ellipse cx="2317" cy="1771" rx="31" ry="15" fill="url(#bumpL)" opacity="0.45"/><ellipse cx="1456" cy="1883" rx="23" ry="13" fill="url(#bumpL)" opacity="0.45"/><ellipse cx="1861" cy="1627" rx="35" ry="24" fill="url(#bumpL)" opacity="0.45"/><ellipse cx="2161" cy="1807" rx="24" ry="11" fill="url(#bumpL)" opacity="0.45"/><ellipse cx="1625" cy="1607" rx="24" ry="16" fill="url(#bumpL)" opacity="0.45"/><ellipse cx="1690" cy="1800" rx="40" ry="45" fill="#000050" opacity="0.75" filter="url(#blur8)"/><ellipse cx="1800" cy="1830" rx="22" ry="40" fill="#000060" opacity="0.6" filter="url(#blur8)"/></g>
<path d="M1586,1830 C1601.3,1736.5 1608.1,1643 1620,1643 C1631.9,1643 1638.7,1736.5 1654,1830 Z" fill="url(#sideBump)" opacity="0.85"/>
<path d="M1612,1840 C1628.2,1737.5 1635.4,1635 1648,1635 C1660.6,1635 1667.8,1737.5 1684,1840 Z" fill="url(#sideBump)" opacity="1"/>
<path d="M1724,1880 C1739.3,1804.0 1746.1,1728 1758,1728 C1769.9,1728 1776.7,1804.0 1792,1880 Z" fill="url(#sideBump)" opacity="1"/>
<path d="M1660,1840 C1684,1560 1695,1337 1710,1337 C1725,1337 1738,1560 1760,1840 Z" fill="url(#peakG)"/>
<path d="M1660,1840 C1684,1560 1695,1337 1710,1337 C1725,1337 1738,1560 1760,1840 Z" fill="url(#peakShade)" mask="url(#pkMask)"/>
<text x="1000" y="1592" font-family="Liberation Sans, sans-serif" font-size="48" font-weight="normal" text-anchor="start" fill="#444" >Signal</text>
<rect x="2140" y="1329" width="382" height="382" fill="#a8a8a8"/>
<rect x="2140" y="1329" width="382" height="382" fill="#a8a8a8" filter="url(#noiseF)"/>
<g opacity="0.35" filter="url(#blur3)"><path d="M2245,1480 Q2280,1540 2310,1590" stroke="#888" stroke-width="9" fill="none" stroke-dasharray="10 8"/><path d="M2262,1470 Q2295,1530 2322,1580" stroke="#c8c8c8" stroke-width="8" fill="none" stroke-dasharray="10 8"/></g>
<ellipse cx="2329" cy="1610" rx="21" ry="25" fill="none" stroke="#e4e4e4" stroke-width="8" filter="url(#blur3)" transform="rotate(-30 2329 1610)"/>
<ellipse cx="2329" cy="1610" rx="13" ry="9" fill="#0a0a0a" filter="url(#blur1)" transform="rotate(-35 2329 1610)"/>
<text x="2855.5" y="118" font-family="Liberation Sans, sans-serif" font-size="99" font-weight="normal" text-anchor="start" fill="#000" textLength="121.6" lengthAdjust="spacingAndGlyphs">(b)</text>
<path d="M3202,1048 L3202,165 L4089,165 L4089,1048 Z" fill="none" stroke="#111" stroke-width="8"/>
<line x1="3168" y1="1048" x2="4093" y2="1048" stroke="#111" stroke-width="9"/>
<line x1="3169" y1="1048.0" x2="3202" y2="1048.0" stroke="#111" stroke-width="8"/>
<text x="3159" y="1069.0" font-family="Liberation Sans, sans-serif" font-size="60" font-weight="bold" text-anchor="end" fill="#111" textLength="30.9" lengthAdjust="spacingAndGlyphs">0</text>
<line x1="3169" y1="871.4" x2="3202" y2="871.4" stroke="#111" stroke-width="8"/>
<text x="3159" y="892.4" font-family="Liberation Sans, sans-serif" font-size="60" font-weight="bold" text-anchor="end" fill="#111" textLength="92.7" lengthAdjust="spacingAndGlyphs">250</text>
<line x1="3169" y1="694.8" x2="3202" y2="694.8" stroke="#111" stroke-width="8"/>
<text x="3159" y="715.8" font-family="Liberation Sans, sans-serif" font-size="60" font-weight="bold" text-anchor="end" fill="#111" textLength="92.7" lengthAdjust="spacingAndGlyphs">500</text>
<line x1="3169" y1="518.2" x2="3202" y2="518.2" stroke="#111" stroke-width="8"/>
<text x="3159" y="539.2" font-family="Liberation Sans, sans-serif" font-size="60" font-weight="bold" text-anchor="end" fill="#111" textLength="92.7" lengthAdjust="spacingAndGlyphs">750</text>
<line x1="3169" y1="341.6" x2="3202" y2="341.6" stroke="#111" stroke-width="8"/>
<text x="3159" y="362.6" font-family="Liberation Sans, sans-serif" font-size="60" font-weight="bold" text-anchor="end" fill="#111" textLength="123.5" lengthAdjust="spacingAndGlyphs">1000</text>
<line x1="3169" y1="165.0" x2="3202" y2="165.0" stroke="#111" stroke-width="8"/>
<text x="3159" y="186.0" font-family="Liberation Sans, sans-serif" font-size="60" font-weight="bold" text-anchor="end" fill="#111" textLength="123.5" lengthAdjust="spacingAndGlyphs">1250</text>
<line x1="3296" y1="1048" x2="3296" y2="1082" stroke="#111" stroke-width="8"/>
<line x1="3433" y1="1048" x2="3433" y2="1082" stroke="#111" stroke-width="8"/>
<line x1="3575" y1="1048" x2="3575" y2="1082" stroke="#111" stroke-width="8"/>
<line x1="3715" y1="1048" x2="3715" y2="1082" stroke="#111" stroke-width="8"/>
<line x1="3856" y1="1048" x2="3856" y2="1082" stroke="#111" stroke-width="8"/>
<line x1="3996" y1="1048" x2="3996" y2="1082" stroke="#111" stroke-width="8"/>
<path d="M3256.5,1048 L3256.5,1035.5 L3338.5,1035.5 L3338.5,1048" fill="none" stroke="#1c1cc4" stroke-width="7"/>
<line x1="3297.5" y1="1018" x2="3297.5" y2="1035" stroke="#1c1cc4" stroke-width="6"/>
<line x1="3283.5" y1="1018" x2="3311.5" y2="1018" stroke="#1c1cc4" stroke-width="6"/>
<line x1="3283.5" y1="1035" x2="3311.5" y2="1035" stroke="#1c1cc4" stroke-width="6"/>
<path d="M3394.5,1048 L3394.5,976.5 L3476.5,976.5 L3476.5,1048" fill="none" stroke="#1c1cc4" stroke-width="7"/>
<line x1="3435.5" y1="954" x2="3435.5" y2="986" stroke="#1c1cc4" stroke-width="6"/>
<line x1="3421.5" y1="954" x2="3449.5" y2="954" stroke="#1c1cc4" stroke-width="6"/>
<line x1="3421.5" y1="986" x2="3449.5" y2="986" stroke="#1c1cc4" stroke-width="6"/>
<path d="M3536.5,1048 L3536.5,971.5 L3617.5,971.5 L3617.5,1048" fill="none" stroke="#1c1cc4" stroke-width="7"/>
<line x1="3577.0" y1="948" x2="3577.0" y2="983" stroke="#1c1cc4" stroke-width="6"/>
<line x1="3563.0" y1="948" x2="3591.0" y2="948" stroke="#1c1cc4" stroke-width="6"/>
<line x1="3563.0" y1="983" x2="3591.0" y2="983" stroke="#1c1cc4" stroke-width="6"/>
<path d="M3673.5,1048 L3673.5,1023.5 L3756.5,1023.5 L3756.5,1048" fill="none" stroke="#1c1cc4" stroke-width="7"/>
<line x1="3715.0" y1="1003" x2="3715.0" y2="1032" stroke="#1c1cc4" stroke-width="6"/>
<line x1="3701.0" y1="1003" x2="3729.0" y2="1003" stroke="#1c1cc4" stroke-width="6"/>
<line x1="3701.0" y1="1032" x2="3729.0" y2="1032" stroke="#1c1cc4" stroke-width="6"/>
<path d="M3814.5,1048 L3814.5,992.5 L3896.5,992.5 L3896.5,1048" fill="none" stroke="#1c1cc4" stroke-width="7"/>
<line x1="3855.5" y1="955" x2="3855.5" y2="1019" stroke="#1c1cc4" stroke-width="6"/>
<line x1="3841.5" y1="955" x2="3869.5" y2="955" stroke="#1c1cc4" stroke-width="6"/>
<line x1="3841.5" y1="1019" x2="3869.5" y2="1019" stroke="#1c1cc4" stroke-width="6"/>
<path d="M3951.5,1048 L3951.5,464.5 L4038.5,464.5 L4038.5,1048" fill="none" stroke="#ee2020" stroke-width="7"/>
<line x1="3995.0" y1="362" x2="3995.0" y2="559" stroke="#ee2020" stroke-width="6"/>
<line x1="3981.0" y1="362" x2="4009.0" y2="362" stroke="#ee2020" stroke-width="6"/>
<line x1="3981.0" y1="559" x2="4009.0" y2="559" stroke="#ee2020" stroke-width="6"/>
<path d="M3296,912 L3296,878 L3856,878 L3856,912" fill="none" stroke="#111" stroke-width="8" stroke-linejoin="round" stroke-linecap="round"/>
<path d="M3576,878 L3576,262 L3996,262 L3996,324" fill="none" stroke="#111" stroke-width="8" stroke-linejoin="round" stroke-linecap="round"/>
<line x1="3733.0" y1="189.4" x2="3733.0" y2="219.6" stroke="#111" stroke-width="6.8" stroke-linecap="round"/><line x1="3719.9" y1="196.9" x2="3746.1" y2="212.1" stroke="#111" stroke-width="6.8" stroke-linecap="round"/><line x1="3746.1" y1="196.9" x2="3719.9" y2="212.1" stroke="#111" stroke-width="6.8" stroke-linecap="round"/><circle cx="3733" cy="204.5" r="7.1" fill="#111"/>
<line x1="3781.0" y1="189.4" x2="3781.0" y2="219.6" stroke="#111" stroke-width="6.8" stroke-linecap="round"/><line x1="3767.9" y1="196.9" x2="3794.1" y2="212.1" stroke="#111" stroke-width="6.8" stroke-linecap="round"/><line x1="3794.1" y1="196.9" x2="3767.9" y2="212.1" stroke="#111" stroke-width="6.8" stroke-linecap="round"/><circle cx="3781" cy="204.5" r="7.1" fill="#111"/>
<line x1="3828.0" y1="189.4" x2="3828.0" y2="219.6" stroke="#111" stroke-width="6.8" stroke-linecap="round"/><line x1="3814.9" y1="196.9" x2="3841.1" y2="212.1" stroke="#111" stroke-width="6.8" stroke-linecap="round"/><line x1="3841.1" y1="196.9" x2="3814.9" y2="212.1" stroke="#111" stroke-width="6.8" stroke-linecap="round"/><circle cx="3828" cy="204.5" r="7.1" fill="#111"/>
<text transform="translate(2995,602.5) rotate(-90)" font-family="Liberation Sans, sans-serif" font-size="70" font-weight="bold" text-anchor="middle" fill="#111" textLength="723" lengthAdjust="spacingAndGlyphs">Surface Density (mm<tspan dy="-27" font-size="44">-2</tspan><tspan dy="27">)</tspan></text>
<text transform="translate(3310,1142) rotate(-45)" font-family="Liberation Sans, sans-serif" font-size="56" text-anchor="end" fill="#111" stroke="#111" stroke-width="1.6">Blank</text>
<text transform="translate(3447,1142) rotate(-45)" font-family="Liberation Sans, sans-serif" font-size="56" text-anchor="end" fill="#111" stroke="#111" stroke-width="1.6">229E</text>
<text transform="translate(3589,1142) rotate(-45)" font-family="Liberation Sans, sans-serif" font-size="56" text-anchor="end" fill="#111" stroke="#111" stroke-width="1.6">H5N1</text>
<text transform="translate(3729,1142) rotate(-45)" font-family="Liberation Sans, sans-serif" font-size="56" text-anchor="end" fill="#111" stroke="#111" stroke-width="1.6">SARS-CoV</text>
<text transform="translate(3870,1142) rotate(-45)" font-family="Liberation Sans, sans-serif" font-size="56" text-anchor="end" fill="#111" stroke="#111" stroke-width="1.6">UV SARS-CoV-2</text>
<text transform="translate(4010,1142) rotate(-45)" font-family="Liberation Sans, sans-serif" font-size="56" text-anchor="end" fill="#111" stroke="#111" stroke-width="1.6">SARS-CoV-2</text>
<text x="2855.8" y="1339" font-family="Liberation Sans, sans-serif" font-size="99" font-weight="normal" text-anchor="start" fill="#000" textLength="111" lengthAdjust="spacingAndGlyphs">(c)</text>
<path d="M3212,2288 L3212,1486 L4085,1486 L4085,2288 Z" fill="none" stroke="#111" stroke-width="8"/>
<line x1="3182" y1="2288" x2="4089" y2="2288" stroke="#111" stroke-width="9"/>
<line x1="3182" y1="2288.0" x2="3212" y2="2288.0" stroke="#111" stroke-width="8"/>
<text x="3150" y="2307.0" font-family="Liberation Sans, sans-serif" font-size="54" font-weight="bold" text-anchor="end" fill="#111" >10</text>
<text x="3154" y="2289.0" font-family="Liberation Sans, sans-serif" font-size="33" font-weight="normal" text-anchor="start" fill="#222" >1</text>
<line x1="3198" y1="2227.6" x2="3212" y2="2227.6" stroke="#111" stroke-width="5"/>
<line x1="3198" y1="2192.3" x2="3212" y2="2192.3" stroke="#111" stroke-width="5"/>
<line x1="3198" y1="2167.3" x2="3212" y2="2167.3" stroke="#111" stroke-width="5"/>
<line x1="3198" y1="2147.9" x2="3212" y2="2147.9" stroke="#111" stroke-width="5"/>
<line x1="3198" y1="2132.0" x2="3212" y2="2132.0" stroke="#111" stroke-width="5"/>
<line x1="3198" y1="2118.6" x2="3212" y2="2118.6" stroke="#111" stroke-width="5"/>
<line x1="3198" y1="2106.9" x2="3212" y2="2106.9" stroke="#111" stroke-width="5"/>
<line x1="3198" y1="2096.7" x2="3212" y2="2096.7" stroke="#111" stroke-width="5"/>
<line x1="3182" y1="2087.5" x2="3212" y2="2087.5" stroke="#111" stroke-width="8"/>
<text x="3150" y="2106.5" font-family="Liberation Sans, sans-serif" font-size="54" font-weight="bold" text-anchor="end" fill="#111" >10</text>
<text x="3154" y="2088.5" font-family="Liberation Sans, sans-serif" font-size="33" font-weight="normal" text-anchor="start" fill="#222" >2</text>
<line x1="3198" y1="2027.1" x2="3212" y2="2027.1" stroke="#111" stroke-width="5"/>
<line x1="3198" y1="1991.8" x2="3212" y2="1991.8" stroke="#111" stroke-width="5"/>
<line x1="3198" y1="1966.8" x2="3212" y2="1966.8" stroke="#111" stroke-width="5"/>
<line x1="3198" y1="1947.4" x2="3212" y2="1947.4" stroke="#111" stroke-width="5"/>
<line x1="3198" y1="1931.5" x2="3212" y2="1931.5" stroke="#111" stroke-width="5"/>
<line x1="3198" y1="1918.1" x2="3212" y2="1918.1" stroke="#111" stroke-width="5"/>
<line x1="3198" y1="1906.4" x2="3212" y2="1906.4" stroke="#111" stroke-width="5"/>
<line x1="3198" y1="1896.2" x2="3212" y2="1896.2" stroke="#111" stroke-width="5"/>
<line x1="3182" y1="1887.0" x2="3212" y2="1887.0" stroke="#111" stroke-width="8"/>
<text x="3150" y="1906.0" font-family="Liberation Sans, sans-serif" font-size="54" font-weight="bold" text-anchor="end" fill="#111" >10</text>
<text x="3154" y="1888.0" font-family="Liberation Sans, sans-serif" font-size="33" font-weight="normal" text-anchor="start" fill="#222" >3</text>
<line x1="3198" y1="1826.6" x2="3212" y2="1826.6" stroke="#111" stroke-width="5"/>
<line x1="3198" y1="1791.3" x2="3212" y2="1791.3" stroke="#111" stroke-width="5"/>
<line x1="3198" y1="1766.3" x2="3212" y2="1766.3" stroke="#111" stroke-width="5"/>
<line x1="3198" y1="1746.9" x2="3212" y2="1746.9" stroke="#111" stroke-width="5"/>
<line x1="3198" y1="1731.0" x2="3212" y2="1731.0" stroke="#111" stroke-width="5"/>
<line x1="3198" y1="1717.6" x2="3212" y2="1717.6" stroke="#111" stroke-width="5"/>
<line x1="3198" y1="1705.9" x2="3212" y2="1705.9" stroke="#111" stroke-width="5"/>
<line x1="3198" y1="1695.7" x2="3212" y2="1695.7" stroke="#111" stroke-width="5"/>
<line x1="3182" y1="1686.5" x2="3212" y2="1686.5" stroke="#111" stroke-width="8"/>
<text x="3150" y="1705.5" font-family="Liberation Sans, sans-serif" font-size="54" font-weight="bold" text-anchor="end" fill="#111" >10</text>
<text x="3154" y="1687.5" font-family="Liberation Sans, sans-serif" font-size="33" font-weight="normal" text-anchor="start" fill="#222" >4</text>
<line x1="3198" y1="1626.1" x2="3212" y2="1626.1" stroke="#111" stroke-width="5"/>
<line x1="3198" y1="1590.8" x2="3212" y2="1590.8" stroke="#111" stroke-width="5"/>
<line x1="3198" y1="1565.8" x2="3212" y2="1565.8" stroke="#111" stroke-width="5"/>
<line x1="3198" y1="1546.4" x2="3212" y2="1546.4" stroke="#111" stroke-width="5"/>
<line x1="3198" y1="1530.5" x2="3212" y2="1530.5" stroke="#111" stroke-width="5"/>
<line x1="3198" y1="1517.1" x2="3212" y2="1517.1" stroke="#111" stroke-width="5"/>
<line x1="3198" y1="1505.4" x2="3212" y2="1505.4" stroke="#111" stroke-width="5"/>
<line x1="3198" y1="1495.2" x2="3212" y2="1495.2" stroke="#111" stroke-width="5"/>
<line x1="3182" y1="1486.0" x2="3212" y2="1486.0" stroke="#111" stroke-width="8"/>
<text x="3150" y="1505.0" font-family="Liberation Sans, sans-serif" font-size="54" font-weight="bold" text-anchor="end" fill="#111" >10</text>
<text x="3154" y="1487.0" font-family="Liberation Sans, sans-serif" font-size="33" font-weight="normal" text-anchor="start" fill="#222" >5</text>
<line x1="3320" y1="2288" x2="3320" y2="2320" stroke="#111" stroke-width="8"/>
<line x1="3483" y1="2288" x2="3483" y2="2320" stroke="#111" stroke-width="8"/>
<line x1="3649" y1="2288" x2="3649" y2="2320" stroke="#111" stroke-width="8"/>
<line x1="3812" y1="2288" x2="3812" y2="2320" stroke="#111" stroke-width="8"/>
<line x1="3976" y1="2288" x2="3976" y2="2320" stroke="#111" stroke-width="8"/>
<rect x="3273.5" y="2108.5" width="97" height="179.5" fill="none" stroke="#1c1cc4" stroke-width="7"/>
<line x1="3322.0" y1="2069" x2="3322.0" y2="2148" stroke="#1c1cc4" stroke-width="6"/>
<line x1="3310.0" y1="2069" x2="3334.0" y2="2069" stroke="#1c1cc4" stroke-width="6"/>
<line x1="3310.0" y1="2148" x2="3334.0" y2="2148" stroke="#1c1cc4" stroke-width="6"/>
<rect x="3436.5" y="2049.5" width="100" height="238.5" fill="url(#hatch)" stroke="#1c1cc4" stroke-width="7"/>
<line x1="3486.5" y1="2032" x2="3486.5" y2="2055" stroke="#1c1cc4" stroke-width="6"/>
<line x1="3474.5" y1="2032" x2="3498.5" y2="2032" stroke="#1c1cc4" stroke-width="6"/>
<line x1="3474.5" y1="2055" x2="3498.5" y2="2055" stroke="#1c1cc4" stroke-width="6"/>
<rect x="3600.5" y="1977.5" width="98" height="310.5" fill="url(#hatch)" stroke="#1c1cc4" stroke-width="7"/>
<line x1="3649.5" y1="1968" x2="3649.5" y2="1980" stroke="#1c1cc4" stroke-width="6"/>
<line x1="3637.5" y1="1968" x2="3661.5" y2="1968" stroke="#1c1cc4" stroke-width="6"/>
<line x1="3637.5" y1="1980" x2="3661.5" y2="1980" stroke="#1c1cc4" stroke-width="6"/>
<rect x="3764.5" y="1870.5" width="97" height="417.5" fill="url(#hatch)" stroke="#1c1cc4" stroke-width="7"/>
<line x1="3813.0" y1="1857" x2="3813.0" y2="1872" stroke="#1c1cc4" stroke-width="6"/>
<line x1="3801.0" y1="1857" x2="3825.0" y2="1857" stroke="#1c1cc4" stroke-width="6"/>
<line x1="3801.0" y1="1872" x2="3825.0" y2="1872" stroke="#1c1cc4" stroke-width="6"/>
<rect x="3926.5" y="1663.5" width="101" height="624.5" fill="url(#hatch)" stroke="#1c1cc4" stroke-width="7"/>
<line x1="3977.0" y1="1644" x2="3977.0" y2="1668" stroke="#1c1cc4" stroke-width="6"/>
<line x1="3965.0" y1="1644" x2="3989.0" y2="1644" stroke="#1c1cc4" stroke-width="6"/>
<line x1="3965.0" y1="1668" x2="3989.0" y2="1668" stroke="#1c1cc4" stroke-width="6"/>
<line x1="3322" y1="1588" x2="3322" y2="2043" stroke="#111" stroke-width="8"/>
<path d="M3322,1588 L3976,1588 L3976,1619" fill="none" stroke="#111" stroke-width="8" stroke-linejoin="round" stroke-linecap="round"/>
<path d="M3322,1710 L3811,1710 L3811,1768" fill="none" stroke="#111" stroke-width="8" stroke-linejoin="round" stroke-linecap="round"/>
<path d="M3322,1827 L3649,1827 L3649,1886" fill="none" stroke="#111" stroke-width="8" stroke-linejoin="round" stroke-linecap="round"/>
<path d="M3322,1943 L3484,1943 L3484,1995" fill="none" stroke="#111" stroke-width="8" stroke-linejoin="round" stroke-linecap="round"/>
<line x1="3603.0" y1="1522.8" x2="3603.0" y2="1549.2" stroke="#111" stroke-width="6.5" stroke-linecap="round"/><line x1="3591.5" y1="1529.4" x2="3614.5" y2="1542.6" stroke="#111" stroke-width="6.5" stroke-linecap="round"/><line x1="3614.5" y1="1529.4" x2="3591.5" y2="1542.6" stroke="#111" stroke-width="6.5" stroke-linecap="round"/><circle cx="3603" cy="1536" r="6.8" fill="#111"/>
<line x1="3644.0" y1="1522.8" x2="3644.0" y2="1549.2" stroke="#111" stroke-width="6.5" stroke-linecap="round"/><line x1="3632.5" y1="1529.4" x2="3655.5" y2="1542.6" stroke="#111" stroke-width="6.5" stroke-linecap="round"/><line x1="3655.5" y1="1529.4" x2="3632.5" y2="1542.6" stroke="#111" stroke-width="6.5" stroke-linecap="round"/><circle cx="3644" cy="1536" r="6.8" fill="#111"/>
<line x1="3687.0" y1="1522.8" x2="3687.0" y2="1549.2" stroke="#111" stroke-width="6.5" stroke-linecap="round"/><line x1="3675.5" y1="1529.4" x2="3698.5" y2="1542.6" stroke="#111" stroke-width="6.5" stroke-linecap="round"/><line x1="3698.5" y1="1529.4" x2="3675.5" y2="1542.6" stroke="#111" stroke-width="6.5" stroke-linecap="round"/><circle cx="3687" cy="1536" r="6.8" fill="#111"/>
<line x1="3498.0" y1="1644.8" x2="3498.0" y2="1671.2" stroke="#111" stroke-width="6.5" stroke-linecap="round"/><line x1="3486.5" y1="1651.4" x2="3509.5" y2="1664.6" stroke="#111" stroke-width="6.5" stroke-linecap="round"/><line x1="3509.5" y1="1651.4" x2="3486.5" y2="1664.6" stroke="#111" stroke-width="6.5" stroke-linecap="round"/><circle cx="3498" cy="1658" r="6.8" fill="#111"/>
<line x1="3539.0" y1="1644.8" x2="3539.0" y2="1671.2" stroke="#111" stroke-width="6.5" stroke-linecap="round"/><line x1="3527.5" y1="1651.4" x2="3550.5" y2="1664.6" stroke="#111" stroke-width="6.5" stroke-linecap="round"/><line x1="3550.5" y1="1651.4" x2="3527.5" y2="1664.6" stroke="#111" stroke-width="6.5" stroke-linecap="round"/><circle cx="3539" cy="1658" r="6.8" fill="#111"/>
<line x1="3582.0" y1="1644.8" x2="3582.0" y2="1671.2" stroke="#111" stroke-width="6.5" stroke-linecap="round"/><line x1="3570.5" y1="1651.4" x2="3593.5" y2="1664.6" stroke="#111" stroke-width="6.5" stroke-linecap="round"/><line x1="3593.5" y1="1651.4" x2="3570.5" y2="1664.6" stroke="#111" stroke-width="6.5" stroke-linecap="round"/><circle cx="3582" cy="1658" r="6.8" fill="#111"/>
<line x1="3627.0" y1="1644.8" x2="3627.0" y2="1671.2" stroke="#111" stroke-width="6.5" stroke-linecap="round"/><line x1="3615.5" y1="1651.4" x2="3638.5" y2="1664.6" stroke="#111" stroke-width="6.5" stroke-linecap="round"/><line x1="3638.5" y1="1651.4" x2="3615.5" y2="1664.6" stroke="#111" stroke-width="6.5" stroke-linecap="round"/><circle cx="3627" cy="1658" r="6.8" fill="#111"/>
<line x1="3437.0" y1="1759.8" x2="3437.0" y2="1786.2" stroke="#111" stroke-width="6.5" stroke-linecap="round"/><line x1="3425.5" y1="1766.4" x2="3448.5" y2="1779.6" stroke="#111" stroke-width="6.5" stroke-linecap="round"/><line x1="3448.5" y1="1766.4" x2="3425.5" y2="1779.6" stroke="#111" stroke-width="6.5" stroke-linecap="round"/><circle cx="3437" cy="1773" r="6.8" fill="#111"/>
<line x1="3480.0" y1="1759.8" x2="3480.0" y2="1786.2" stroke="#111" stroke-width="6.5" stroke-linecap="round"/><line x1="3468.5" y1="1766.4" x2="3491.5" y2="1779.6" stroke="#111" stroke-width="6.5" stroke-linecap="round"/><line x1="3491.5" y1="1766.4" x2="3468.5" y2="1779.6" stroke="#111" stroke-width="6.5" stroke-linecap="round"/><circle cx="3480" cy="1773" r="6.8" fill="#111"/>
<line x1="3524.0" y1="1759.8" x2="3524.0" y2="1786.2" stroke="#111" stroke-width="6.5" stroke-linecap="round"/><line x1="3512.5" y1="1766.4" x2="3535.5" y2="1779.6" stroke="#111" stroke-width="6.5" stroke-linecap="round"/><line x1="3535.5" y1="1766.4" x2="3512.5" y2="1779.6" stroke="#111" stroke-width="6.5" stroke-linecap="round"/><circle cx="3524" cy="1773" r="6.8" fill="#111"/>
<line x1="3400.0" y1="1874.8" x2="3400.0" y2="1901.2" stroke="#111" stroke-width="6.5" stroke-linecap="round"/><line x1="3388.5" y1="1881.4" x2="3411.5" y2="1894.6" stroke="#111" stroke-width="6.5" stroke-linecap="round"/><line x1="3411.5" y1="1881.4" x2="3388.5" y2="1894.6" stroke="#111" stroke-width="6.5" stroke-linecap="round"/><circle cx="3400" cy="1888" r="6.8" fill="#111"/>
<text x="3320.6" y="2374" font-family="Liberation Sans, sans-serif" font-size="54" font-weight="bold" text-anchor="middle" fill="#111" >0</text>
<text x="3476" y="2374" font-family="Liberation Sans, sans-serif" font-size="54" font-weight="bold" text-anchor="middle" fill="#111" >10</text>
<text x="3504" y="2349" font-family="Liberation Sans, sans-serif" font-size="36" font-weight="normal" text-anchor="start" fill="#777" >3</text>
<text x="3642" y="2374" font-family="Liberation Sans, sans-serif" font-size="54" font-weight="bold" text-anchor="middle" fill="#111" >10</text>
<text x="3670" y="2349" font-family="Liberation Sans, sans-serif" font-size="36" font-weight="normal" text-anchor="start" fill="#777" >5</text>
<text x="3805" y="2374" font-family="Liberation Sans, sans-serif" font-size="54" font-weight="bold" text-anchor="middle" fill="#111" >10</text>
<text x="3833" y="2349" font-family="Liberation Sans, sans-serif" font-size="36" font-weight="normal" text-anchor="start" fill="#777" >7</text>
<text x="3969" y="2374" font-family="Liberation Sans, sans-serif" font-size="54" font-weight="bold" text-anchor="middle" fill="#111" >10</text>
<text x="3997" y="2349" font-family="Liberation Sans, sans-serif" font-size="36" font-weight="normal" text-anchor="start" fill="#777" >9</text>
<text x="3649" y="2470" font-family="Liberation Sans, sans-serif" font-size="62" font-weight="bold" text-anchor="middle" fill="#111" textLength="750" lengthAdjust="spacingAndGlyphs">[SARS-CoV-2] (copies/mL)</text>
<text transform="translate(3072,1888.5) rotate(-90)" font-family="Liberation Sans, sans-serif" font-size="63" font-weight="bold" text-anchor="middle" fill="#111" textLength="655" lengthAdjust="spacingAndGlyphs">Surface Density (mm<tspan dy="-24" font-size="40">-2</tspan><tspan dy="24">)</tspan></text>
</svg></body></html>
